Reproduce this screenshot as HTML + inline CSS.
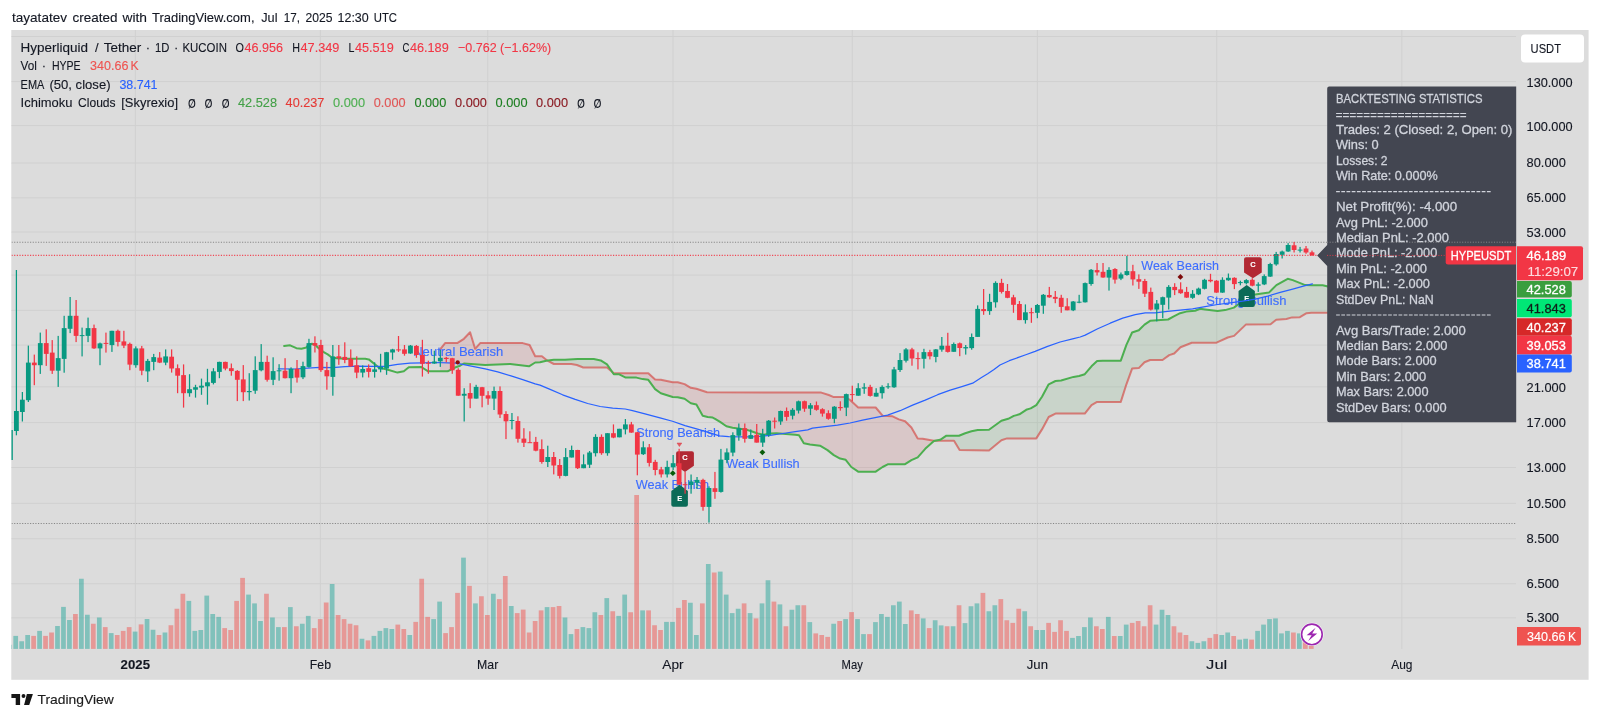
<!DOCTYPE html>
<html><head><meta charset="utf-8"><title>HYPEUSDT chart</title>
<style>html,body{margin:0;padding:0;background:#fff;width:1600px;height:719px;overflow:hidden;font-family:"Liberation Sans", sans-serif;}</style>
</head><body>
<svg width="1600" height="719" viewBox="0 0 1600 719" font-family='"Liberation Sans", sans-serif' style="display:block;will-change:transform">
<rect x="11.3" y="30" width="1577.3" height="649.8" fill="#dcdcdc"/>
<text x="12" y="22" font-size="13" fill="#131722" textLength="55" lengthAdjust="spacingAndGlyphs" stroke="#131722" stroke-width="0.12">tayatatev</text>
<text x="72.5" y="22" font-size="13" fill="#131722" textLength="45" lengthAdjust="spacingAndGlyphs" stroke="#131722" stroke-width="0.12">created</text>
<text x="122.5" y="22" font-size="13" fill="#131722" textLength="24.5" lengthAdjust="spacingAndGlyphs" stroke="#131722" stroke-width="0.12">with</text>
<text x="152" y="22" font-size="13" fill="#131722" textLength="102.5" lengthAdjust="spacingAndGlyphs" stroke="#131722" stroke-width="0.12">TradingView.com,</text>
<text x="261.25" y="22" font-size="13" fill="#131722" textLength="16.25" lengthAdjust="spacingAndGlyphs" stroke="#131722" stroke-width="0.12">Jul</text>
<text x="283.75" y="22" font-size="13" fill="#131722" textLength="16.25" lengthAdjust="spacingAndGlyphs" stroke="#131722" stroke-width="0.12">17,</text>
<text x="305.5" y="22" font-size="13" fill="#131722" textLength="27" lengthAdjust="spacingAndGlyphs" stroke="#131722" stroke-width="0.12">2025</text>
<text x="337.5" y="22" font-size="13" fill="#131722" textLength="31.25" lengthAdjust="spacingAndGlyphs" stroke="#131722" stroke-width="0.12">12:30</text>
<text x="373.75" y="22" font-size="13" fill="#131722" textLength="23.25" lengthAdjust="spacingAndGlyphs" stroke="#131722" stroke-width="0.12">UTC</text>
<g stroke="#d0d0d0" stroke-width="1" fill="none">
<line x1="11.5" x2="1516" y1="36.5" y2="36.5"/>
<line x1="11.5" x2="1516" y1="81.6" y2="81.6"/>
<line x1="11.5" x2="1516" y1="125.6" y2="125.6"/>
<line x1="11.5" x2="1516" y1="163" y2="163"/>
<line x1="11.5" x2="1516" y1="197.8" y2="197.8"/>
<line x1="11.5" x2="1516" y1="232" y2="232"/>
<line x1="11.5" x2="1516" y1="275.1" y2="275.1"/>
<line x1="11.5" x2="1516" y1="310.4" y2="310.4"/>
<line x1="11.5" x2="1516" y1="345.1" y2="345.1"/>
<line x1="11.5" x2="1516" y1="386.8" y2="386.8"/>
<line x1="11.5" x2="1516" y1="422.6" y2="422.6"/>
<line x1="11.5" x2="1516" y1="467.5" y2="467.5"/>
<line x1="11.5" x2="1516" y1="503.3" y2="503.3"/>
<line x1="11.5" x2="1516" y1="538.7" y2="538.7"/>
<line x1="11.5" x2="1516" y1="583.7" y2="583.7"/>
<line x1="11.5" x2="1516" y1="617.9" y2="617.9"/>
<line x1="135.3" x2="135.3" y1="30" y2="649"/>
<line x1="320.4" x2="320.4" y1="30" y2="649"/>
<line x1="487.7" x2="487.7" y1="30" y2="649"/>
<line x1="672.95" x2="672.95" y1="30" y2="649"/>
<line x1="852.2" x2="852.2" y1="30" y2="649"/>
<line x1="1037.4" x2="1037.4" y1="30" y2="649"/>
<line x1="1216.7" x2="1216.7" y1="30" y2="649"/>
<line x1="1401.9" x2="1401.9" y1="30" y2="649"/>
</g>
<clipPath id="pane"><rect x="11.5" y="30" width="1504.5" height="619"/></clipPath>
<g clip-path="url(#pane)">
<polygon points="440.1,371.3 440.6,371.3 441.1,371.3 441.6,371.3 442.1,371.3 442.6,371.3 443.1,371.3 443.6,371.3 444.1,371.3 444.6,371.3 445.1,371.3 445.6,371.3 446.1,371.3 446.6,371.3 447.1,371.3 447.6,371.3 448.1,371.05 448.6,370.79 449.1,370.54 449.6,370.29 450.1,370.03 450.6,369.78 451.1,369.53 451.6,369.27 452.1,369.02 452.6,368.77 453.1,368.51 453.6,368.26 454.1,368.01 454.6,367.75 455.1,367.5 455.6,367.32 456.1,367.14 456.6,366.96 457.1,366.78 457.6,366.6 458.1,366.42 458.6,366.24 459.1,366.06 459.6,365.88 460.1,365.7 460.6,365.41 461.1,365.12 461.6,364.83 462.1,364.54 462.6,364.25 463.1,363.96 463.6,363.67 464.1,363.51 464.6,363.55 465.1,363.58 465.6,363.62 466.1,363.65 466.6,363.69 467.1,363.73 467.6,363.76 468.1,363.8 468.6,363.83 469.1,363.87 469.6,363.9 470.1,363.94 470.6,363.97 471.1,364.01 471.6,364.04 472.1,364.08 472.6,364.11 473.1,364.15 473.6,364.18 474.1,364.22 474.6,364.25 475.1,364.29 475.6,364.32 476.1,364.36 476.6,364.39 477.1,364.43 477.6,364.46 478.1,364.5 478.6,364.54 479.1,364.57 479.6,364.61 480.1,364.64 480.6,364.68 481.1,364.71 481.6,364.75 482.1,364.78 482.6,364.82 483.1,364.85 483.6,364.89 484.1,364.92 484.6,364.96 485.1,364.99 485.6,364.98 486.1,364.96 486.6,364.94 487.1,364.92 487.6,364.9 488.1,364.88 488.6,364.86 489.1,364.84 489.6,364.82 490.1,364.8 490.6,364.78 491.1,364.76 491.6,364.74 492.1,364.72 492.6,364.7 493.1,364.68 493.6,364.66 494.1,364.64 494.6,364.62 495.1,364.6 495.6,364.58 496.1,364.56 496.6,364.54 497.1,364.52 497.6,364.5 498.1,364.48 498.6,364.46 499.1,364.44 499.6,364.42 500.1,364.4 500.6,364.38 501.1,364.36 501.6,364.34 502.1,364.32 502.6,364.3 503.1,364.28 503.6,364.26 504.1,364.24 504.6,364.22 505.1,364.2 505.6,364.18 506.1,364.16 506.6,364.14 507.1,364.12 507.6,364.1 508.1,364.08 508.6,364.06 509.1,364.04 509.6,364.02 510.1,364 510.6,364.05 511.1,364.11 511.6,364.17 512.1,364.23 512.6,364.29 513.1,364.35 513.6,364.42 514.1,364.48 514.6,364.54 515.1,364.6 515.6,364.66 516.1,364.72 516.6,364.78 517.1,364.84 517.6,364.91 518.1,364.97 518.6,365.03 519.1,365.09 519.6,365.15 520.1,365.21 520.6,365.27 521.1,365.33 521.6,365.39 522.1,365.46 522.6,365.52 523.1,365.58 523.6,365.64 524.1,365.7 524.6,365.76 525.1,365.82 525.6,365.88 526.1,365.95 526.6,366.01 527.1,366.07 527.6,366.13 528.1,366.19 528.6,366.25 529.1,366.24 529.6,365.93 530.1,365.63 530.6,365.32 531.1,365.01 531.6,364.71 532.1,364.4 532.6,364.09 533.1,363.79 533.6,363.48 534.1,363.17 534.6,362.87 535.1,362.56 535.6,362.48 536.1,362.46 536.6,362.44 537.1,362.42 537.6,362.4 538.1,362.38 538.6,362.36 539.1,362.34 539.6,362.32 540.1,362.27 540.6,362.15 541.1,362.02 541.6,361.89 542.1,361.77 542.6,361.64 543.1,361.51 543.6,361.39 544.1,361.26 544.6,361.13 545.1,361 545.6,360.88 546.1,360.75 546.6,360.66 547.1,360.59 547.6,360.53 547.6,360.75 547.1,360.39 546.6,359.99 546.1,359.6 545.6,359.21 545.1,358.81 544.6,358.42 544.1,358.03 543.6,357.64 543.1,357.24 542.6,356.85 542.1,356.46 541.6,356.3 541.1,356.3 540.6,356.3 540.1,356.3 539.6,356.3 539.1,356.3 538.6,356.3 538.1,356.3 537.6,356.3 537.1,356.3 536.6,356.3 536.1,356.3 535.6,356.3 535.1,356.1 534.6,355.09 534.1,354.08 533.6,353.07 533.1,352.06 532.6,351.05 532.1,350.04 531.6,349.04 531.1,348.03 530.6,347.02 530.1,346.01 529.6,345 529.1,344.86 528.6,344.72 528.1,344.59 527.6,344.45 527.1,344.31 526.6,344.17 526.1,344.04 525.6,343.9 525.1,343.76 524.6,343.62 524.1,343.49 523.6,343.35 523.1,343.21 522.6,343.1 522.1,343.1 521.6,343.1 521.1,343.1 520.6,343.1 520.1,343.1 519.6,343.1 519.1,343.1 518.6,343.1 518.1,343.1 517.6,343.1 517.1,343.1 516.6,343.1 516.1,343.1 515.6,343.1 515.1,343.1 514.6,343.1 514.1,343.1 513.6,343.1 513.1,343.1 512.6,343.1 512.1,343.1 511.6,343.1 511.1,343.1 510.6,343.1 510.1,343.1 509.6,343.1 509.1,343.1 508.6,343.1 508.1,343.1 507.6,343.1 507.1,343.1 506.6,343.1 506.1,343.1 505.6,343.1 505.1,343.1 504.6,343.1 504.1,343.1 503.6,343.1 503.1,343.1 502.6,343.1 502.1,343.1 501.6,343.1 501.1,343.1 500.6,343.1 500.1,343.1 499.6,343.1 499.1,343.1 498.6,343.1 498.1,343.1 497.6,343.1 497.1,343.1 496.6,343.1 496.1,343.1 495.6,343.1 495.1,343.1 494.6,343.1 494.1,343.1 493.6,343.1 493.1,343.1 492.6,343.1 492.1,343.1 491.6,343.1 491.1,343.1 490.6,343.1 490.1,343.1 489.6,343.1 489.1,343.1 488.6,343.1 488.1,343.1 487.6,343.1 487.1,343.1 486.6,343.1 486.1,343.1 485.6,343.1 485.1,343.1 484.6,343.1 484.1,343.1 483.6,343.1 483.1,343.1 482.6,343.1 482.1,343.1 481.6,343.1 481.1,343.1 480.6,343.1 480.1,343.21 479.6,343.77 479.1,344.33 478.6,344.89 478.1,345.45 477.6,346.01 477.1,346.56 476.6,347.12 476.1,347.68 475.6,348.24 475.1,348.8 474.6,347.15 474.1,345.5 473.6,343.85 473.1,342.2 472.6,340.55 472.1,338.9 471.6,337.25 471.1,335.6 470.6,333.95 470.1,332.3 469.6,332.82 469.1,333.35 468.6,333.87 468.1,334.4 467.6,334.92 467.1,335.45 466.6,335.97 466.1,336.49 465.6,337.02 465.1,337.54 464.6,338.07 464.1,338.59 463.6,339 463.1,339.32 462.6,339.65 462.1,339.97 461.6,340.3 461.1,340.62 460.6,340.95 460.1,341.27 459.6,341.6 459.1,341.92 458.6,342.25 458.1,342.57 457.6,342.9 457.1,342.91 456.6,342.92 456.1,342.92 455.6,342.93 455.1,342.94 454.6,342.95 454.1,342.96 453.6,342.96 453.1,342.97 452.6,342.98 452.1,342.99 451.6,343 451.1,343 450.6,343.01 450.1,343.02 449.6,343.03 449.1,343.04 448.6,343.04 448.1,343.05 447.6,343.06 447.1,343.07 446.6,343.08 446.1,343.08 445.6,343.09 445.1,343.1 444.6,343.73 444.1,344.36 443.6,344.99 443.1,345.62 442.6,346.25 442.1,346.88 441.6,347.51 441.1,348.14 440.6,348.77 440.1,349.4" fill="rgba(200,50,60,0.12)"/>
<polygon points="547.6,360.53 548.1,360.46 548.6,360.39 549.1,360.33 549.6,360.26 550.1,360.19 550.6,360.13 551.1,360.06 551.6,359.99 552.1,359.93 552.6,359.86 553.1,359.79 553.6,359.73 554.1,359.7 554.6,359.7 555.1,359.7 555.6,359.7 556.1,359.7 556.6,359.7 557.1,359.7 557.6,359.7 558.1,359.7 558.6,359.7 559.1,359.7 559.6,359.7 560.1,359.7 560.6,359.7 561.1,359.7 561.6,359.7 562.1,359.7 562.6,359.7 563.1,359.7 563.6,359.7 564.1,359.7 564.6,359.7 565.1,359.69 565.6,359.67 566.1,359.64 566.6,359.61 567.1,359.58 567.6,359.55 568.1,359.53 568.6,359.5 569.1,359.47 569.6,359.44 570.1,359.41 570.6,359.39 571.1,359.36 571.6,359.33 572.1,359.3 572.6,359.27 573.1,359.25 573.6,359.22 574.1,359.19 574.6,359.16 575.1,359.13 575.6,359.11 576.1,359.08 576.6,359.05 577.1,359.02 577.6,359 578.1,359 578.6,359 579.1,359 579.6,359 580.1,359 580.6,359 581.1,359 581.6,359 582.1,359 582.6,359 583.1,359 583.6,359 584.1,359 584.6,359 585.1,359 585.6,359 586.1,359 586.6,359 587.1,359 587.6,359 588.1,359 588.6,359 589.1,359 589.6,359 590.1,359 590.6,359 591.1,359 591.6,359 592.1,359 592.6,359 593.1,359 593.6,359 594.1,359.06 594.6,359.16 595.1,359.26 595.6,359.37 596.1,359.47 596.6,359.57 597.1,359.67 597.6,359.77 598.1,359.87 598.6,359.97 599.1,360.08 599.6,360.18 600.1,360.28 600.6,360.38 601.1,360.65 601.6,360.97 602.1,361.29 602.6,361.61 603.1,361.92 603.6,362.24 604.1,362.56 604.6,362.88 605.1,363.19 605.6,363.51 606.1,363.83 606.6,364.15 607.1,364.54 607.6,365.26 608.1,365.99 608.6,366.71 609.1,367.43 609.6,368.15 610.1,368.87 610.6,369.59 611.1,370.31 611.6,371.03 612.1,371.75 612.6,372.47 612.6,372.19 612.1,371.78 611.6,371.36 611.1,370.94 610.6,370.52 610.1,370.1 609.6,369.68 609.1,369.26 608.6,368.84 608.1,368.42 607.6,368 607.1,367.58 606.6,367.5 606.1,367.5 605.6,367.5 605.1,367.5 604.6,367.5 604.1,367.5 603.6,367.5 603.1,367.5 602.6,367.5 602.1,367.5 601.6,367.5 601.1,367.5 600.6,367.5 600.1,367.5 599.6,367.5 599.1,367.5 598.6,367.5 598.1,367.5 597.6,367.5 597.1,367.5 596.6,367.5 596.1,367.5 595.6,367.5 595.1,367.5 594.6,367.5 594.1,367.5 593.6,367.5 593.1,367.5 592.6,367.5 592.1,367.5 591.6,367.5 591.1,367.5 590.6,367.5 590.1,367.5 589.6,367.5 589.1,367.5 588.6,367.5 588.1,367.5 587.6,367.5 587.1,367.5 586.6,367.5 586.1,367.5 585.6,367.5 585.1,367.5 584.6,367.5 584.1,367.5 583.6,367.5 583.1,367.46 582.6,367.26 582.1,367.06 581.6,366.87 581.1,366.67 580.6,366.47 580.1,366.27 579.6,366.07 579.1,365.87 578.6,365.67 578.1,365.48 577.6,365.28 577.1,365.08 576.6,364.95 576.1,364.86 575.6,364.77 575.1,364.68 574.6,364.59 574.1,364.5 573.6,364.41 573.1,364.32 572.6,364.23 572.1,364.14 571.6,364.05 571.1,364 570.6,364 570.1,364 569.6,364 569.1,364 568.6,364 568.1,364 567.6,364 567.1,364 566.6,364 566.1,364 565.6,364 565.1,364 564.6,364 564.1,364 563.6,364 563.1,364 562.6,364 562.1,364 561.6,364 561.1,364 560.6,364 560.1,364 559.6,364 559.1,364 558.6,364 558.1,364 557.6,364 557.1,364 556.6,364 556.1,364 555.6,364 555.1,364 554.6,364 554.1,364 553.6,363.9 553.1,363.63 552.6,363.37 552.1,363.11 551.6,362.85 551.1,362.59 550.6,362.32 550.1,362.06 549.6,361.8 549.1,361.54 548.6,361.28 548.1,361.01 547.6,360.75" fill="rgba(67,160,71,0.12)"/>
<polygon points="612.6,372.47 613.1,373.19 613.6,373.91 614.1,374.2 614.6,374.2 615.1,374.2 615.6,374.2 616.1,374.2 616.6,374.2 617.1,374.2 617.6,374.2 618.1,374.2 618.6,374.2 619.1,374.35 619.6,374.59 620.1,374.84 620.6,375.09 621.1,375.33 621.6,375.58 622.1,375.83 622.6,376.07 623.1,376.32 623.6,376.57 624.1,376.81 624.6,377.06 625.1,377.3 625.6,377.55 626.1,377.6 626.6,377.6 627.1,377.6 627.6,377.6 628.1,377.6 628.6,377.6 629.1,377.6 629.6,377.6 630.1,377.6 630.6,377.6 631.1,377.6 631.6,377.6 632.1,377.6 632.6,377.6 633.1,377.6 633.6,377.6 634.1,377.6 634.6,377.6 635.1,377.6 635.6,377.6 636.1,377.6 636.6,377.65 637.1,377.77 637.6,377.89 638.1,378.01 638.6,378.13 639.1,378.25 639.6,378.37 640.1,378.5 640.6,378.62 641.1,378.74 641.6,378.86 642.1,378.98 642.6,379.1 643.1,379.16 643.6,379.22 644.1,379.28 644.6,379.35 645.1,379.41 645.6,379.47 646.1,379.53 646.6,379.59 647.1,379.65 647.6,379.71 648.1,379.78 648.6,380.21 649.1,380.89 649.6,381.58 650.1,382.26 650.6,382.95 651.1,383.63 651.6,384.31 652.1,385 652.6,385.68 653.1,386.36 653.6,387.05 654.1,387.73 654.6,388.42 655.1,389.1 655.6,389.46 656.1,389.82 656.6,390.18 657.1,390.54 657.6,390.9 658.1,391.26 658.6,391.62 659.1,391.98 659.6,392.34 660.1,392.7 660.6,393.06 661.1,393.3 661.6,393.46 662.1,393.62 662.6,393.77 663.1,393.93 663.6,394.09 664.1,394.25 664.6,394.41 665.1,394.57 665.6,394.73 666.1,394.89 666.6,395.05 667.1,395.21 667.6,395.37 668.1,395.53 668.6,395.69 669.1,395.85 669.6,396.01 670.1,396.17 670.6,396.33 671.1,396.49 671.6,396.65 672.1,396.81 672.6,396.97 673.1,397.02 673.6,397.04 674.1,397.06 674.6,397.08 675.1,397.1 675.6,397.12 676.1,397.14 676.6,397.16 677.1,397.18 677.6,397.2 678.1,397.29 678.6,397.41 679.1,397.52 679.6,397.64 680.1,397.76 680.6,397.87 681.1,397.99 681.6,398.1 682.1,398.22 682.6,398.34 683.1,398.45 683.6,398.57 684.1,398.68 684.6,398.8 685.1,399.15 685.6,399.51 686.1,399.86 686.6,400.22 687.1,400.57 687.6,400.93 688.1,401.28 688.6,401.64 689.1,401.99 689.6,402.35 690.1,402.7 690.6,403.06 691.1,403.27 691.6,403.39 692.1,403.5 692.6,403.62 693.1,403.73 693.6,403.85 694.1,403.97 694.6,404.08 695.1,404.2 695.6,404.31 696.1,404.43 696.6,404.86 697.1,405.74 697.6,406.63 698.1,407.52 698.6,408.41 699.1,409.3 699.6,410.19 700.1,411.08 700.6,411.97 701.1,412.86 701.6,413.74 702.1,414.63 702.6,415.52 703.1,415.8 703.6,415.93 704.1,416.06 704.6,416.19 705.1,416.32 705.6,416.45 706.1,416.58 706.6,416.71 707.1,416.84 707.6,416.97 708.1,417.05 708.6,417.11 709.1,417.17 709.6,417.23 710.1,417.29 710.6,417.35 711.1,417.41 711.6,417.47 712.1,417.53 712.6,417.59 713.1,417.8 713.6,418.05 714.1,418.3 714.6,418.55 715.1,418.8 715.6,419.11 716.1,419.42 716.6,419.73 717.1,420.04 717.6,420.35 718.1,420.66 718.6,420.97 719.1,421.28 719.6,421.59 720.1,421.9 720.6,422.25 721.1,422.6 721.6,422.95 722.1,423.3 722.6,423.65 723.1,424 723.6,424.34 724.1,424.69 724.6,425.04 725.1,425.39 725.6,425.74 726.1,426.09 726.6,426.35 727.1,426.47 727.6,426.59 728.1,426.71 728.6,426.83 729.1,426.95 729.6,427.07 730.1,427.2 730.6,427.32 731.1,427.44 731.6,427.56 732.1,427.68 732.6,427.8 733.1,427.86 733.6,427.93 734.1,427.99 734.6,428.05 735.1,428.12 735.6,428.18 736.1,428.24 736.6,428.31 737.1,428.37 737.6,428.43 738.1,428.5 738.6,428.56 739.1,428.63 739.6,428.69 740.1,428.75 740.6,428.82 741.1,428.88 741.6,428.94 742.1,429.01 742.6,429.07 743.1,429.13 743.6,429.2 744.1,429.26 744.6,429.32 745.1,429.39 745.6,429.52 746.1,429.68 746.6,429.83 747.1,429.98 747.6,430.14 748.1,430.29 748.6,430.44 749.1,430.6 749.6,430.75 750.1,430.9 750.6,431.05 751.1,431.21 751.6,431.37 752.1,431.54 752.6,431.72 753.1,431.89 753.6,432.07 754.1,432.24 754.6,432.42 755.1,432.59 755.6,432.77 756.1,432.94 756.6,433.12 757.1,433.29 757.6,433.47 758.1,433.58 758.6,433.69 759.1,433.79 759.6,433.9 760.1,434 760.6,434.11 761.1,434.21 761.6,434.32 762.1,434.42 762.6,434.53 763.1,434.63 763.6,434.74 764.1,434.76 764.6,434.66 765.1,434.55 765.6,434.45 766.1,434.35 766.6,434.24 767.1,434.14 767.6,434.04 768.1,433.93 768.6,433.83 769.1,433.73 769.6,433.62 770.1,433.52 770.6,433.48 771.1,433.46 771.6,433.43 772.1,433.41 772.6,433.39 773.1,433.36 773.6,433.34 774.1,433.31 774.6,433.29 775.1,433.27 775.6,433.24 776.1,433.22 776.6,433.21 777.1,433.25 777.6,433.29 778.1,433.34 778.6,433.38 779.1,433.42 779.6,433.47 780.1,433.51 780.6,433.55 781.1,433.59 781.6,433.64 782.1,433.68 782.6,433.72 783.1,433.76 783.6,433.81 784.1,433.85 784.6,433.89 785.1,433.94 785.6,433.98 786.1,434.02 786.6,434.06 787.1,434.11 787.6,434.15 788.1,434.19 788.6,434.24 789.1,434.28 789.6,434.32 790.1,434.36 790.6,434.41 791.1,434.45 791.6,434.49 792.1,434.53 792.6,434.58 793.1,434.62 793.6,434.66 794.1,434.71 794.6,434.75 795.1,434.79 795.6,434.84 796.1,434.89 796.6,434.95 797.1,435 797.6,435.05 798.1,435.11 798.6,435.16 799.1,435.37 799.6,436.2 800.1,437.03 800.6,437.87 801.1,438.7 801.6,439.53 802.1,440.37 802.6,441.2 803.1,442.03 803.6,442.87 804.1,443.26 804.6,443.35 805.1,443.45 805.6,443.55 806.1,443.65 806.6,443.74 807.1,443.84 807.6,443.94 808.1,444.03 808.6,444.13 809.1,444.23 809.6,444.32 810.1,444.41 810.6,444.48 811.1,444.54 811.6,444.61 812.1,444.67 812.6,444.74 813.1,444.8 813.6,444.87 814.1,444.93 814.6,445 815.1,445.06 815.6,445.13 816.1,445.19 816.6,445.26 817.1,445.32 817.6,445.39 818.1,445.45 818.6,445.52 819.1,445.58 819.6,445.65 820.1,445.76 820.6,446.05 821.1,446.35 821.6,446.64 822.1,446.93 822.6,447.23 823.1,447.52 823.6,447.81 824.1,448.11 824.6,448.4 825.1,448.69 825.6,448.99 826.1,449.28 826.6,449.57 827.1,449.87 827.6,450.18 828.1,450.58 828.6,450.97 829.1,451.37 829.6,451.77 830.1,452.16 830.6,452.56 831.1,452.96 831.6,453.35 832.1,453.75 832.6,454.15 833.1,454.54 833.6,454.94 834.1,455.27 834.6,455.54 835.1,455.82 835.6,456.1 836.1,456.38 836.6,456.66 837.1,456.93 837.6,457.21 838.1,457.49 838.6,457.77 839.1,458.04 839.6,458.32 840.1,458.6 840.6,458.71 841.1,458.81 841.6,458.92 842.1,459.03 842.6,459.14 843.1,459.24 843.6,459.35 844.1,459.46 844.6,459.56 845.1,459.67 845.6,459.78 846.1,460.31 846.6,460.96 847.1,461.6 847.6,462.24 848.1,462.89 848.6,463.53 849.1,464.17 849.6,464.81 850.1,465.46 850.6,466.1 851.1,466.74 851.6,467.2 852.1,467.54 852.6,467.89 853.1,468.23 853.6,468.57 854.1,468.91 854.6,469.25 855.1,469.59 855.6,469.93 856.1,470.27 856.6,470.61 857.1,470.95 857.6,471.29 858.1,471.63 858.6,471.7 859.1,471.7 859.6,471.7 860.1,471.7 860.6,471.7 861.1,471.7 861.6,471.7 862.1,471.7 862.6,471.7 863.1,471.7 863.6,471.7 864.1,471.7 864.6,471.7 865.1,471.7 865.6,471.7 866.1,471.7 866.6,471.7 867.1,471.7 867.6,471.7 868.1,471.7 868.6,471.7 869.1,471.7 869.6,471.7 870.1,471.7 870.6,471.7 871.1,471.7 871.6,471.7 872.1,471.7 872.6,471.7 873.1,471.7 873.6,471.7 874.1,471.7 874.6,471.7 875.1,471.7 875.6,471.7 876.1,471.43 876.6,471.09 877.1,470.75 877.6,470.41 878.1,470.07 878.6,469.72 879.1,469.38 879.6,469.04 880.1,468.7 880.6,468.36 881.1,468.02 881.6,467.68 882.1,467.34 882.6,467 883.1,466.75 883.6,466.5 884.1,466.25 884.6,466 885.1,465.75 885.6,465.5 886.1,465.25 886.6,465 887.1,464.75 887.6,464.5 888.1,464.25 888.6,464.2 889.1,464.2 889.6,464.2 890.1,464.2 890.6,464.2 891.1,464.2 891.6,464.2 892.1,464.2 892.6,464.2 893.1,464.2 893.6,464.2 894.1,464.2 894.6,464.2 895.1,464.2 895.6,464.2 896.1,464.2 896.6,464.2 897.1,464.2 897.6,464.2 898.1,464.2 898.6,464.2 899.1,464.2 899.6,464.2 900.1,464.2 900.6,464.2 901.1,464.2 901.6,464.2 902.1,464.2 902.6,464.2 903.1,464.2 903.6,464.2 904.1,464.2 904.6,464.2 905.1,464.2 905.6,463.87 906.1,463.55 906.6,463.22 907.1,462.9 907.6,462.57 908.1,462.25 908.6,461.92 909.1,461.6 909.6,461.27 910.1,460.95 910.6,460.62 911.1,460.3 911.6,460.01 912.1,459.79 912.6,459.57 913.1,459.34 913.6,459.12 914.1,458.9 914.6,458.68 915.1,458.46 915.6,458.23 916.1,458.01 916.6,457.79 917.1,457.57 917.6,457.34 918.1,456.85 918.6,456.28 919.1,455.71 919.6,455.15 920.1,454.58 920.6,454.01 921.1,453.45 921.6,452.88 922.1,452.31 922.6,451.75 923.1,451.18 923.6,450.61 924.1,450.05 924.6,449.48 925.1,448.91 925.6,448.45 926.1,448 926.6,447.56 927.1,447.12 927.6,446.68 928.1,446.23 928.6,445.79 929.1,445.35 929.6,444.91 930.1,444.46 930.6,444.02 931.1,443.58 931.6,443.14 932.1,442.69 932.6,442.25 933.1,441.81 933.6,441.37 934.1,441.06 934.6,440.96 935.1,440.85 935.6,440.75 936.1,440.65 936.1,440.7 935.6,440.7 935.1,440.7 934.6,440.7 934.1,440.7 933.6,440.65 933.1,440.56 932.6,440.48 932.1,440.39 931.6,440.31 931.1,440.23 930.6,440.14 930.1,440.06 929.6,439.97 929.1,439.89 928.6,439.8 928.1,439.72 927.6,439.63 927.1,439.55 926.6,439.46 926.1,439.38 925.6,439.29 925.1,439.21 924.6,439.12 924.1,439.04 923.6,438.95 923.1,438.87 922.6,438.8 922.1,438.78 921.6,438.76 921.1,438.74 920.6,438.72 920.1,438.7 919.6,438.68 919.1,438.66 918.6,438.64 918.1,438.62 917.6,438.42 917.1,437.54 916.6,436.66 916.1,435.78 915.6,434.9 915.1,434.02 914.6,433.14 914.1,432.26 913.6,431.38 913.1,430.5 912.6,429.61 912.1,428.73 911.6,427.85 911.1,427.2 910.6,426.71 910.1,426.22 909.6,425.73 909.1,425.24 908.6,424.74 908.1,424.25 907.6,423.76 907.1,423.27 906.6,422.78 906.1,422.28 905.6,421.79 905.1,421.3 904.6,421.15 904.1,420.99 903.6,420.84 903.1,420.69 902.6,420.53 902.1,420.38 901.6,420.23 901.1,420.07 900.6,419.92 900.1,419.77 899.6,419.61 899.1,419.46 898.6,419.25 898.1,419.01 897.6,418.76 897.1,418.51 896.6,418.27 896.1,418.02 895.6,417.78 895.1,417.53 894.6,417.28 894.1,417.04 893.6,416.79 893.1,416.55 892.6,416.3 892.1,416.27 891.6,416.24 891.1,416.21 890.6,416.18 890.1,416.15 889.6,416.12 889.1,416.09 888.6,416.06 888.1,416.03 887.6,416 887.1,415.97 886.6,415.94 886.1,415.91 885.6,415.88 885.1,415.85 884.6,415.82 884.1,415.79 883.6,415.76 883.1,415.73 882.6,415.7 882.1,415.11 881.6,414.51 881.1,413.92 880.6,413.32 880.1,412.73 879.6,412.13 879.1,411.54 878.6,410.95 878.1,410.35 877.6,409.76 877.1,409.16 876.6,408.57 876.1,407.98 875.6,407.5 875.1,407.5 874.6,407.5 874.1,407.5 873.6,407.5 873.1,407.5 872.6,407.5 872.1,407.5 871.6,407.5 871.1,407.5 870.6,407.5 870.1,407.5 869.6,407.5 869.1,407.5 868.6,407.5 868.1,407.5 867.6,407.5 867.1,407.5 866.6,407.5 866.1,407.5 865.6,407.5 865.1,407.5 864.6,407.5 864.1,407.5 863.6,407.5 863.1,407.5 862.6,407.5 862.1,407.5 861.6,407.5 861.1,407.5 860.6,407.5 860.1,407.5 859.6,407.5 859.1,407.5 858.6,407.5 858.1,407.41 857.6,406.94 857.1,406.48 856.6,406.02 856.1,405.56 855.6,405.09 855.1,404.63 854.6,404.17 854.1,403.7 853.6,403.24 853.1,402.78 852.6,402.31 852.1,401.85 851.6,401.39 851.1,400.93 850.6,400.46 850.1,400 849.6,399.69 849.1,399.38 848.6,399.07 848.1,398.76 847.6,398.45 847.1,398.14 846.6,397.83 846.1,397.52 845.6,397.21 845.1,396.9 844.6,396.9 844.1,396.9 843.6,396.9 843.1,396.9 842.6,396.9 842.1,396.9 841.6,396.9 841.1,396.9 840.6,396.9 840.1,396.9 839.6,396.9 839.1,396.9 838.6,396.9 838.1,396.9 837.6,396.9 837.1,396.9 836.6,396.9 836.1,396.9 835.6,396.9 835.1,396.9 834.6,396.9 834.1,396.9 833.6,396.9 833.1,396.86 832.6,396.64 832.1,396.42 831.6,396.21 831.1,395.99 830.6,395.78 830.1,395.56 829.6,395.35 829.1,395.13 828.6,394.94 828.1,394.78 827.6,394.62 827.1,394.46 826.6,394.3 826.1,394.14 825.6,393.98 825.1,393.82 824.6,393.66 824.1,393.5 823.6,393.34 823.1,393.18 822.6,393.02 822.1,392.86 821.6,392.7 821.1,392.6 820.6,392.6 820.1,392.6 819.6,392.6 819.1,392.59 818.6,392.59 818.1,392.59 817.6,392.59 817.1,392.59 816.6,392.59 816.1,392.59 815.6,392.59 815.1,392.58 814.6,392.58 814.1,392.58 813.6,392.58 813.1,392.58 812.6,392.58 812.1,392.58 811.6,392.57 811.1,392.57 810.6,392.57 810.1,392.57 809.6,392.57 809.1,392.57 808.6,392.57 808.1,392.57 807.6,392.56 807.1,392.56 806.6,392.56 806.1,392.56 805.6,392.56 805.1,392.56 804.6,392.56 804.1,392.55 803.6,392.55 803.1,392.55 802.6,392.55 802.1,392.55 801.6,392.55 801.1,392.55 800.6,392.55 800.1,392.54 799.6,392.54 799.1,392.54 798.6,392.54 798.1,392.54 797.6,392.54 797.1,392.54 796.6,392.54 796.1,392.53 795.6,392.53 795.1,392.53 794.6,392.53 794.1,392.53 793.6,392.53 793.1,392.53 792.6,392.52 792.1,392.52 791.6,392.52 791.1,392.52 790.6,392.52 790.1,392.52 789.6,392.52 789.1,392.52 788.6,392.51 788.1,392.51 787.6,392.51 787.1,392.51 786.6,392.51 786.1,392.51 785.6,392.51 785.1,392.5 784.6,392.5 784.1,392.5 783.6,392.5 783.1,392.5 782.6,392.5 782.1,392.5 781.6,392.5 781.1,392.49 780.6,392.49 780.1,392.49 779.6,392.49 779.1,392.49 778.6,392.49 778.1,392.49 777.6,392.49 777.1,392.48 776.6,392.48 776.1,392.48 775.6,392.48 775.1,392.48 774.6,392.48 774.1,392.48 773.6,392.47 773.1,392.47 772.6,392.47 772.1,392.47 771.6,392.47 771.1,392.47 770.6,392.47 770.1,392.47 769.6,392.46 769.1,392.46 768.6,392.46 768.1,392.46 767.6,392.46 767.1,392.46 766.6,392.46 766.1,392.45 765.6,392.45 765.1,392.45 764.6,392.45 764.1,392.45 763.6,392.45 763.1,392.45 762.6,392.45 762.1,392.44 761.6,392.44 761.1,392.44 760.6,392.44 760.1,392.44 759.6,392.44 759.1,392.44 758.6,392.44 758.1,392.43 757.6,392.43 757.1,392.43 756.6,392.43 756.1,392.43 755.6,392.43 755.1,392.43 754.6,392.42 754.1,392.42 753.6,392.42 753.1,392.42 752.6,392.42 752.1,392.42 751.6,392.42 751.1,392.42 750.6,392.41 750.1,392.41 749.6,392.41 749.1,392.41 748.6,392.41 748.1,392.41 747.6,392.41 747.1,392.41 746.6,392.4 746.1,392.4 745.6,392.4 745.1,392.4 744.6,392.4 744.1,392.4 743.6,392.4 743.1,392.39 742.6,392.39 742.1,392.39 741.6,392.39 741.1,392.39 740.6,392.39 740.1,392.39 739.6,392.39 739.1,392.38 738.6,392.38 738.1,392.38 737.6,392.38 737.1,392.38 736.6,392.38 736.1,392.38 735.6,392.37 735.1,392.37 734.6,392.37 734.1,392.37 733.6,392.37 733.1,392.37 732.6,392.37 732.1,392.37 731.6,392.36 731.1,392.36 730.6,392.36 730.1,392.36 729.6,392.36 729.1,392.36 728.6,392.36 728.1,392.36 727.6,392.35 727.1,392.35 726.6,392.35 726.1,392.35 725.6,392.35 725.1,392.35 724.6,392.35 724.1,392.34 723.6,392.34 723.1,392.34 722.6,392.34 722.1,392.34 721.6,392.34 721.1,392.34 720.6,392.34 720.1,392.33 719.6,392.33 719.1,392.33 718.6,392.33 718.1,392.33 717.6,392.33 717.1,392.33 716.6,392.32 716.1,392.32 715.6,392.32 715.1,392.32 714.6,392.32 714.1,392.32 713.6,392.32 713.1,392.32 712.6,392.31 712.1,392.31 711.6,392.31 711.1,392.31 710.6,392.31 710.1,392.31 709.6,392.31 709.1,392.31 708.6,392.3 708.1,392.3 707.6,392.3 707.1,392.3 706.6,392.14 706.1,391.97 705.6,391.81 705.1,391.65 704.6,391.48 704.1,391.32 703.6,391.16 703.1,390.99 702.6,390.83 702.1,390.66 701.6,390.5 701.1,390.34 700.6,390.17 700.1,390.01 699.6,389.85 699.1,389.68 698.6,389.52 698.1,389.36 697.6,389.19 697.1,389.03 696.6,388.87 696.1,388.75 695.6,388.66 695.1,388.57 694.6,388.48 694.1,388.39 693.6,388.3 693.1,388.21 692.6,388.12 692.1,388.03 691.6,387.94 691.1,387.85 690.6,387.68 690.1,387.38 689.6,387.08 689.1,386.79 688.6,386.49 688.1,386.19 687.6,385.89 687.1,385.59 686.6,385.29 686.1,385 685.6,384.7 685.1,384.4 684.6,384.1 684.1,383.97 683.6,383.84 683.1,383.71 682.6,383.58 682.1,383.45 681.6,383.32 681.1,383.19 680.6,383.06 680.1,382.93 679.6,382.8 679.1,382.67 678.6,382.53 678.1,382.4 677.6,382.3 677.1,382.3 676.6,382.3 676.1,382.3 675.6,382.3 675.1,382.3 674.6,382.3 674.1,382.3 673.6,382.3 673.1,382.3 672.6,382.28 672.1,382.17 671.6,382.06 671.1,381.95 670.6,381.84 670.1,381.73 669.6,381.62 669.1,381.51 668.6,381.4 668.1,381.29 667.6,381.19 667.1,381.08 666.6,380.97 666.1,380.86 665.6,380.75 665.1,380.64 664.6,380.53 664.1,380.42 663.6,380.31 663.1,380.2 662.6,380.09 662.1,379.98 661.6,379.87 661.1,379.77 660.6,379.69 660.1,379.66 659.6,379.64 659.1,379.61 658.6,379.58 658.1,379.56 657.6,379.53 657.1,379.51 656.6,379.48 656.1,379.45 655.6,379.43 655.1,379.4 654.6,378.94 654.1,378.49 653.6,378.03 653.1,377.58 652.6,377.12 652.1,376.66 651.6,376.21 651.1,375.75 650.6,375.3 650.1,374.84 649.6,374.39 649.1,373.93 648.6,373.47 648.1,373.2 647.6,373.2 647.1,373.2 646.6,373.2 646.1,373.2 645.6,373.2 645.1,373.2 644.6,373.2 644.1,373.2 643.6,373.2 643.1,373.2 642.6,373.2 642.1,373.2 641.6,373.2 641.1,373.2 640.6,373.2 640.1,373.2 639.6,373.2 639.1,373.2 638.6,373.2 638.1,373.2 637.6,373.2 637.1,373.2 636.6,373.2 636.1,373.2 635.6,373.2 635.1,373.2 634.6,373.2 634.1,373.2 633.6,373.2 633.1,373.2 632.6,373.2 632.1,373.2 631.6,373.2 631.1,373.2 630.6,373.2 630.1,373.2 629.6,373.2 629.1,373.2 628.6,373.2 628.1,373.2 627.6,373.2 627.1,373.2 626.6,373.2 626.1,373.2 625.6,373.2 625.1,373.2 624.6,373.2 624.1,373.2 623.6,373.2 623.1,373.2 622.6,373.2 622.1,373.2 621.6,373.2 621.1,373.2 620.6,373.2 620.1,373.2 619.6,373.2 619.1,373.2 618.6,373.2 618.1,373.2 617.6,373.2 617.1,373.2 616.6,373.2 616.1,373.2 615.6,373.2 615.1,373.2 614.6,373.2 614.1,373.2 613.6,373.03 613.1,372.61 612.6,372.19" fill="rgba(200,50,60,0.12)"/>
<polygon points="936.1,440.65 936.6,440.54 937.1,440.44 937.6,440.34 938.1,440.23 938.6,440.13 939.1,440.03 939.6,439.92 940.1,439.82 940.6,439.54 941.1,439.2 941.6,438.87 942.1,438.54 942.6,438.21 943.1,437.88 943.6,437.55 944.1,437.22 944.6,436.89 945.1,436.56 945.6,436.23 946.1,435.9 946.6,435.7 947.1,435.7 947.6,435.7 948.1,435.7 948.6,435.7 949.1,435.7 949.6,435.7 950.1,435.7 950.6,435.7 951.1,435.7 951.6,435.7 952.1,435.7 952.6,435.7 953.1,435.7 953.6,435.7 954.1,435.7 954.6,435.7 955.1,435.7 955.6,435.7 956.1,435.7 956.6,435.7 957.1,435.7 957.6,435.7 958.1,435.7 958.6,435.7 959.1,435.66 959.6,435.46 960.1,435.26 960.6,435.05 961.1,434.85 961.6,434.65 962.1,434.45 962.6,434.25 963.1,434.05 963.6,433.85 964.1,433.64 964.6,433.44 965.1,433.24 965.6,433.08 966.1,432.93 966.6,432.78 967.1,432.63 967.6,432.48 968.1,432.33 968.6,432.17 969.1,432.02 969.6,431.87 970.1,431.72 970.6,431.57 971.1,431.42 971.6,431.28 972.1,431.17 972.6,431.07 973.1,430.96 973.6,430.86 974.1,430.75 974.6,430.65 975.1,430.55 975.6,430.44 976.1,430.34 976.6,430.23 977.1,430.13 977.6,430.02 978.1,429.99 978.6,429.98 979.1,429.98 979.6,429.97 980.1,429.96 980.6,429.95 981.1,429.94 981.6,429.93 982.1,429.92 982.6,429.91 983.1,429.9 983.6,429.9 984.1,429.89 984.6,429.88 985.1,429.87 985.6,429.86 986.1,429.85 986.6,429.84 987.1,429.83 987.6,429.82 988.1,429.82 988.6,429.81 989.1,429.73 989.6,429.36 990.1,429 990.6,428.64 991.1,428.28 991.6,427.91 992.1,427.55 992.6,427.19 993.1,426.82 993.6,426.46 994.1,426.1 994.6,425.74 995.1,425.37 995.6,425.01 996.1,424.65 996.6,424.28 997.1,423.92 997.6,423.56 998.1,423.2 998.6,422.83 999.1,422.47 999.6,422.11 1000.1,421.74 1000.6,421.38 1001.1,421.02 1001.6,420.74 1002.1,420.59 1002.6,420.45 1003.1,420.3 1003.6,420.15 1004.1,420.01 1004.6,419.86 1005.1,419.71 1005.6,419.56 1006.1,419.42 1006.6,419.27 1007.1,419.12 1007.6,418.98 1008.1,418.83 1008.6,418.59 1009.1,418.33 1009.6,418.07 1010.1,417.82 1010.6,417.56 1011.1,417.3 1011.6,417.04 1012.1,416.78 1012.6,416.52 1013.1,416.26 1013.6,416 1014.1,415.81 1014.6,415.67 1015.1,415.53 1015.6,415.39 1016.1,415.24 1016.6,415.1 1017.1,414.96 1017.6,414.81 1018.1,414.67 1018.6,414.53 1019.1,414.39 1019.6,414.17 1020.1,413.84 1020.6,413.51 1021.1,413.18 1021.6,412.84 1022.1,412.51 1022.6,412.18 1023.1,411.85 1023.6,411.52 1024.1,411.19 1024.6,410.86 1025.1,410.53 1025.6,410.2 1026.1,409.87 1026.6,409.68 1027.1,409.52 1027.6,409.36 1028.1,409.21 1028.6,409.05 1029.1,408.9 1029.6,408.74 1030.1,408.59 1030.6,408.43 1031.1,408.16 1031.6,407.87 1032.1,407.58 1032.6,407.28 1033.1,406.99 1033.6,406.69 1034.1,406.4 1034.6,406.1 1035.1,405.81 1035.6,405.51 1036.1,405.22 1036.6,404.66 1037.1,403.92 1037.6,403.18 1038.1,402.45 1038.6,401.71 1039.1,400.97 1039.6,400.24 1040.1,399.5 1040.6,398.76 1041.1,398.03 1041.6,397.29 1042.1,396.51 1042.6,395.59 1043.1,394.66 1043.6,393.74 1044.1,392.81 1044.6,391.89 1045.1,390.96 1045.6,390.04 1046.1,389.11 1046.6,388.19 1047.1,387.26 1047.6,386.34 1048.1,385.41 1048.6,384.49 1049.1,384.11 1049.6,383.86 1050.1,383.62 1050.6,383.38 1051.1,383.14 1051.6,382.89 1052.1,382.65 1052.6,382.41 1053.1,382.16 1053.6,381.92 1054.1,381.68 1054.6,381.44 1055.1,381.19 1055.6,380.99 1056.1,380.95 1056.6,380.9 1057.1,380.86 1057.6,380.81 1058.1,380.77 1058.6,380.72 1059.1,380.68 1059.6,380.63 1060.1,380.59 1060.6,380.54 1061.1,380.5 1061.6,380.35 1062.1,380.21 1062.6,380.06 1063.1,379.92 1063.6,379.77 1064.1,379.63 1064.6,379.48 1065.1,379.34 1065.6,379.19 1066.1,379.05 1066.6,378.9 1067.1,378.76 1067.6,378.61 1068.1,378.47 1068.6,378.32 1069.1,378.18 1069.6,378.03 1070.1,377.89 1070.6,377.74 1071.1,377.6 1071.6,377.45 1072.1,377.31 1072.6,377.16 1073.1,377.02 1073.6,376.88 1074.1,376.8 1074.6,376.72 1075.1,376.64 1075.6,376.56 1076.1,376.48 1076.6,376.4 1077.1,376.32 1077.6,376.24 1078.1,376.16 1078.6,376.08 1079.1,376 1079.6,375.84 1080.1,375.68 1080.6,375.53 1081.1,375.37 1081.6,375.21 1082.1,375.05 1082.6,374.89 1083.1,374.74 1083.6,374.58 1084.1,374.42 1084.6,374.26 1085.1,373.85 1085.6,373.26 1086.1,372.67 1086.6,372.08 1087.1,371.49 1087.6,370.9 1088.1,370.31 1088.6,369.72 1089.1,369.13 1089.6,368.54 1090.1,367.95 1090.6,367.36 1091.1,366.77 1091.6,366.21 1092.1,365.74 1092.6,365.28 1093.1,364.81 1093.6,364.35 1094.1,363.89 1094.6,363.42 1095.1,362.96 1095.6,362.49 1096.1,362.03 1096.6,361.56 1097.1,361.1 1097.6,361.06 1098.1,361.03 1098.6,360.99 1099.1,360.96 1099.6,360.92 1100.1,360.89 1100.6,360.85 1101.1,360.82 1101.6,360.78 1102.1,360.75 1102.6,360.71 1103.1,360.7 1103.6,360.7 1104.1,360.7 1104.6,360.7 1105.1,360.7 1105.6,360.7 1106.1,360.7 1106.6,360.7 1107.1,360.7 1107.6,360.7 1108.1,360.7 1108.6,360.7 1109.1,360.7 1109.6,360.7 1110.1,360.7 1110.6,360.7 1111.1,360.7 1111.6,360.7 1112.1,360.7 1112.6,360.7 1113.1,360.7 1113.6,360.7 1114.1,360.7 1114.6,360.7 1115.1,360.7 1115.6,360.7 1116.1,360.7 1116.6,360.7 1117.1,360.7 1117.6,360.7 1118.1,360.7 1118.6,360.7 1119.1,360.7 1119.6,360.7 1120.1,360.7 1120.6,360.7 1121.1,359.85 1121.6,358.44 1122.1,357.03 1122.6,355.62 1123.1,354.21 1123.6,352.8 1124.1,351.39 1124.6,349.98 1125.1,348.57 1125.6,347.16 1126.1,345.75 1126.6,344.46 1127.1,343.38 1127.6,342.29 1128.1,341.2 1128.6,340.11 1129.1,339.03 1129.6,337.94 1130.1,336.85 1130.6,335.76 1131.1,334.68 1131.6,333.59 1132.1,332.5 1132.6,332.34 1133.1,332.17 1133.6,332.01 1134.1,331.84 1134.6,331.68 1135.1,331.51 1135.6,331.35 1136.1,331.19 1136.6,331.02 1137.1,330.86 1137.6,330.69 1138.1,330.53 1138.6,330.37 1139.1,330 1139.6,329.5 1140.1,329 1140.6,328.5 1141.1,328 1141.6,327.5 1142.1,327 1142.6,326.5 1143.1,326 1143.6,325.5 1144.1,325 1144.6,324.53 1145.1,324.19 1145.6,323.85 1146.1,323.51 1146.6,323.18 1147.1,322.84 1147.6,322.5 1148.1,322.16 1148.6,321.82 1149.1,321.48 1149.6,321.14 1150.1,320.8 1150.6,320.76 1151.1,320.73 1151.6,320.69 1152.1,320.66 1152.6,320.62 1153.1,320.58 1153.6,320.55 1154.1,320.51 1154.6,320.48 1155.1,320.44 1155.6,320.4 1156.1,320.37 1156.6,320.33 1157.1,320.29 1157.6,320.26 1158.1,320.22 1158.6,320.19 1159.1,320.15 1159.6,320.11 1160.1,320.08 1160.6,320.04 1161.1,320.01 1161.6,319.97 1162.1,319.93 1162.6,319.9 1163.1,319.86 1163.6,319.82 1164.1,319.79 1164.6,319.75 1165.1,319.72 1165.6,319.68 1166.1,319.64 1166.6,319.61 1167.1,319.57 1167.6,319.54 1168.1,319.5 1168.6,319.23 1169.1,318.96 1169.6,318.68 1170.1,318.41 1170.6,318.14 1171.1,317.87 1171.6,317.6 1172.1,317.32 1172.6,317.05 1173.1,316.78 1173.6,316.51 1174.1,316.25 1174.6,315.99 1175.1,315.74 1175.6,315.49 1176.1,315.23 1176.6,314.98 1177.1,314.72 1177.6,314.47 1178.1,314.22 1178.6,313.96 1179.1,313.71 1179.6,313.45 1180.1,313.2 1180.6,313.07 1181.1,312.94 1181.6,312.81 1182.1,312.68 1182.6,312.55 1183.1,312.43 1183.6,312.3 1184.1,312.17 1184.6,312.04 1185.1,311.91 1185.6,311.78 1186.1,311.65 1186.6,311.57 1187.1,311.52 1187.6,311.47 1188.1,311.42 1188.6,311.36 1189.1,311.31 1189.6,311.26 1190.1,311.21 1190.6,311.16 1191.1,311.11 1191.6,311.06 1192.1,311.01 1192.6,310.96 1193.1,310.9 1193.6,310.85 1194.1,310.8 1194.6,310.75 1195.1,310.7 1195.6,310.51 1196.1,310.32 1196.6,310.13 1197.1,309.94 1197.6,309.75 1198.1,309.56 1198.6,309.37 1199.1,309.18 1199.6,308.99 1200.1,308.8 1200.6,308.87 1201.1,308.94 1201.6,309.01 1202.1,309.08 1202.6,309.15 1203.1,309.22 1203.6,309.29 1204.1,309.36 1204.6,309.43 1205.1,309.5 1205.6,309.56 1206.1,309.63 1206.6,309.69 1207.1,309.76 1207.6,309.82 1208.1,309.88 1208.6,309.95 1209.1,310.01 1209.6,310.08 1210.1,310.14 1210.6,310.2 1211.1,310.27 1211.6,310.33 1212.1,310.4 1212.6,310.46 1213.1,310.52 1213.6,310.59 1214.1,310.65 1214.6,310.72 1215.1,310.78 1215.6,310.84 1216.1,310.91 1216.6,310.97 1217.1,311.04 1217.6,311.1 1218.1,311.03 1218.6,310.97 1219.1,310.9 1219.6,310.83 1220.1,310.77 1220.6,310.7 1221.1,310.63 1221.6,310.57 1222.1,310.5 1222.6,310.43 1223.1,310.37 1223.6,310.3 1224.1,310.23 1224.6,310.17 1225.1,310.1 1225.6,309.96 1226.1,309.82 1226.6,309.67 1227.1,309.53 1227.6,309.39 1228.1,309.25 1228.6,309.11 1229.1,308.96 1229.6,308.82 1230.1,308.68 1230.6,308.54 1231.1,308.4 1231.6,308.25 1232.1,308.11 1232.6,307.97 1233.1,307.83 1233.6,307.69 1234.1,307.45 1234.6,307.07 1235.1,306.7 1235.6,306.32 1236.1,305.94 1236.6,305.57 1237.1,305.19 1237.6,304.82 1238.1,304.44 1238.6,304.06 1239.1,303.69 1239.6,303.31 1240.1,302.93 1240.6,302.56 1241.1,302.18 1241.6,301.81 1242.1,301.43 1242.6,301.05 1243.1,300.68 1243.6,300.3 1244.1,299.95 1244.6,299.7 1245.1,299.45 1245.6,299.2 1246.1,298.95 1246.6,298.7 1247.1,298.45 1247.6,298.2 1248.1,297.95 1248.6,297.7 1249.1,297.45 1249.6,297.2 1250.1,296.95 1250.6,296.7 1251.1,296.45 1251.6,296.2 1252.1,295.95 1252.6,295.7 1253.1,295.45 1253.6,295.2 1254.1,294.95 1254.6,294.7 1255.1,294.45 1255.6,294.35 1256.1,294.28 1256.6,294.22 1257.1,294.15 1257.6,294.08 1258.1,294.02 1258.6,293.95 1259.1,293.89 1259.6,293.82 1260.1,293.76 1260.6,293.69 1261.1,293.62 1261.6,293.56 1262.1,293.49 1262.6,293.43 1263.1,293.36 1263.6,293.3 1264.1,293.23 1264.6,293.16 1265.1,293.1 1265.6,293.03 1266.1,292.97 1266.6,292.9 1267.1,292.84 1267.6,292.77 1268.1,292.71 1268.6,292.64 1269.1,292.4 1269.6,291.9 1270.1,291.4 1270.6,290.9 1271.1,290.4 1271.6,289.9 1272.1,289.4 1272.6,288.9 1273.1,288.4 1273.6,287.9 1274.1,287.4 1274.6,286.9 1275.1,286.4 1275.6,285.9 1276.1,285.4 1276.6,284.99 1277.1,284.71 1277.6,284.43 1278.1,284.15 1278.6,283.87 1279.1,283.59 1279.6,283.32 1280.1,283.04 1280.6,282.76 1281.1,282.48 1281.6,282.2 1282.1,281.92 1282.6,281.64 1283.1,281.36 1283.6,281.09 1284.1,280.81 1284.6,280.53 1285.1,280.25 1285.6,279.97 1286.1,279.69 1286.6,279.41 1287.1,279.13 1287.6,278.86 1288.1,278.9 1288.6,279.03 1289.1,279.16 1289.6,279.29 1290.1,279.42 1290.6,279.55 1291.1,279.68 1291.6,279.81 1292.1,279.94 1292.6,280.07 1293.1,280.26 1293.6,280.46 1294.1,280.66 1294.6,280.86 1295.1,281.06 1295.6,281.26 1296.1,281.46 1296.6,281.66 1297.1,281.86 1297.6,282.06 1298.1,282.26 1298.6,282.46 1299.1,282.66 1299.6,282.86 1300.1,283.06 1300.6,283.26 1301.1,283.46 1301.6,283.66 1302.1,283.86 1302.6,284.06 1303.1,284.26 1303.6,284.46 1304.1,284.66 1304.6,284.86 1305.1,285.06 1305.6,285.11 1306.1,285.13 1306.6,285.14 1307.1,285.16 1307.6,285.18 1308.1,285.19 1308.6,285.21 1309.1,285.22 1309.6,285.24 1310.1,285.26 1310.6,285.27 1311.1,285.29 1311.6,285.3 1312.1,285.3 1312.6,285.3 1313.1,285.3 1313.6,285.3 1314.1,285.3 1314.6,285.3 1315.1,285.3 1315.6,285.3 1316.1,285.3 1316.6,285.3 1317.1,285.3 1317.6,285.3 1318.1,285.3 1318.6,285.3 1319.1,285.3 1319.6,285.3 1320.1,285.3 1320.6,285.3 1321.1,285.3 1321.6,285.3 1322.1,285.3 1322.6,285.3 1323.1,285.39 1323.6,285.51 1324.1,285.63 1324.6,285.74 1325.1,285.86 1325.6,285.98 1326.1,286.09 1326.6,286.21 1327.1,286.32 1327.6,286.44 1328.1,286.56 1328.6,286.67 1329.1,286.79 1329.6,286.91 1329.6,312.8 1329.1,312.8 1328.6,312.8 1328.1,312.8 1327.6,312.8 1327.1,312.8 1326.6,312.8 1326.1,312.8 1325.6,312.8 1325.1,312.8 1324.6,312.8 1324.1,312.8 1323.6,312.8 1323.1,312.8 1322.6,312.8 1322.1,312.8 1321.6,312.8 1321.1,312.8 1320.6,312.8 1320.1,312.8 1319.6,312.8 1319.1,312.8 1318.6,312.8 1318.1,312.8 1317.6,312.8 1317.1,312.8 1316.6,312.8 1316.1,312.8 1315.6,312.8 1315.1,312.8 1314.6,312.8 1314.1,312.8 1313.6,312.8 1313.1,312.8 1312.6,312.8 1312.1,312.8 1311.6,312.8 1311.1,312.83 1310.6,312.87 1310.1,312.91 1309.6,312.96 1309.1,313 1308.6,313.04 1308.1,313.08 1307.6,313.12 1307.1,313.16 1306.6,313.2 1306.1,313.5 1305.6,313.8 1305.1,314.1 1304.6,314.39 1304.1,314.69 1303.6,314.99 1303.1,315.29 1302.6,315.59 1302.1,315.89 1301.6,316.19 1301.1,316.48 1300.6,316.78 1300.1,317.08 1299.6,317.21 1299.1,317.22 1298.6,317.23 1298.1,317.25 1297.6,317.26 1297.1,317.27 1296.6,317.28 1296.1,317.3 1295.6,317.31 1295.1,317.32 1294.6,317.33 1294.1,317.35 1293.6,317.36 1293.1,317.37 1292.6,317.38 1292.1,317.4 1291.6,317.51 1291.1,317.66 1290.6,317.8 1290.1,317.94 1289.6,318.09 1289.1,318.23 1288.6,318.37 1288.1,318.51 1287.6,318.66 1287.1,318.8 1286.6,318.94 1286.1,319.02 1285.6,319.06 1285.1,319.1 1284.6,319.14 1284.1,319.18 1283.6,319.22 1283.1,319.26 1282.6,319.3 1282.1,319.34 1281.6,319.38 1281.1,319.42 1280.6,319.45 1280.1,319.49 1279.6,319.53 1279.1,319.57 1278.6,319.61 1278.1,319.65 1277.6,319.69 1277.1,319.73 1276.6,319.77 1276.1,319.88 1275.6,320.28 1275.1,320.68 1274.6,321.09 1274.1,321.49 1273.6,321.89 1273.1,322.29 1272.6,322.69 1272.1,323.09 1271.6,323.5 1271.1,323.9 1270.6,324.3 1270.1,324.31 1269.6,324.31 1269.1,324.32 1268.6,324.32 1268.1,324.33 1267.6,324.34 1267.1,324.34 1266.6,324.35 1266.1,324.35 1265.6,324.36 1265.1,324.37 1264.6,324.37 1264.1,324.38 1263.6,324.38 1263.1,324.39 1262.6,324.4 1262.1,324.4 1261.6,324.41 1261.1,324.41 1260.6,324.42 1260.1,324.43 1259.6,324.43 1259.1,324.44 1258.6,324.45 1258.1,324.45 1257.6,324.46 1257.1,324.46 1256.6,324.47 1256.1,324.48 1255.6,324.48 1255.1,324.49 1254.6,324.49 1254.1,324.5 1253.6,324.51 1253.1,324.51 1252.6,324.52 1252.1,324.52 1251.6,324.53 1251.1,324.54 1250.6,324.54 1250.1,324.55 1249.6,324.55 1249.1,324.56 1248.6,324.57 1248.1,324.57 1247.6,324.58 1247.1,324.58 1246.6,324.59 1246.1,324.6 1245.6,324.79 1245.1,325.28 1244.6,325.76 1244.1,326.24 1243.6,326.72 1243.1,327.21 1242.6,327.69 1242.1,328.17 1241.6,328.66 1241.1,329.14 1240.6,329.62 1240.1,330.11 1239.6,330.59 1239.1,331.07 1238.6,331.55 1238.1,332.04 1237.6,332.52 1237.1,333 1236.6,333.49 1236.1,333.97 1235.6,334.45 1235.1,334.93 1234.6,335.42 1234.1,335.9 1233.6,336.03 1233.1,336.15 1232.6,336.28 1232.1,336.41 1231.6,336.53 1231.1,336.66 1230.6,336.79 1230.1,336.92 1229.6,337.04 1229.1,337.17 1228.6,337.3 1228.1,337.42 1227.6,337.59 1227.1,337.82 1226.6,338.05 1226.1,338.28 1225.6,338.51 1225.1,338.74 1224.6,338.97 1224.1,339.2 1223.6,339.43 1223.1,339.66 1222.6,339.89 1222.1,340.12 1221.6,340.35 1221.1,340.58 1220.6,340.81 1220.1,341.04 1219.6,341.27 1219.1,341.5 1218.6,341.73 1218.1,341.96 1217.6,342.19 1217.1,342.42 1216.6,342.65 1216.1,342.7 1215.6,342.7 1215.1,342.7 1214.6,342.7 1214.1,342.7 1213.6,342.7 1213.1,342.7 1212.6,342.7 1212.1,342.7 1211.6,342.7 1211.1,342.7 1210.6,342.7 1210.1,342.7 1209.6,342.7 1209.1,342.7 1208.6,342.7 1208.1,342.7 1207.6,342.7 1207.1,342.7 1206.6,342.7 1206.1,342.7 1205.6,342.7 1205.1,342.7 1204.6,342.7 1204.1,342.7 1203.6,342.7 1203.1,342.7 1202.6,342.7 1202.1,342.7 1201.6,342.7 1201.1,342.7 1200.6,342.7 1200.1,342.7 1199.6,342.7 1199.1,342.7 1198.6,342.7 1198.1,342.7 1197.6,342.7 1197.1,342.7 1196.6,342.7 1196.1,342.7 1195.6,342.7 1195.1,342.7 1194.6,342.7 1194.1,342.7 1193.6,342.7 1193.1,342.7 1192.6,342.7 1192.1,342.7 1191.6,342.78 1191.1,342.98 1190.6,343.18 1190.1,343.38 1189.6,343.58 1189.1,343.78 1188.6,343.97 1188.1,344.17 1187.6,344.37 1187.1,344.57 1186.6,344.77 1186.1,344.97 1185.6,345.17 1185.1,345.37 1184.6,345.57 1184.1,345.77 1183.6,345.97 1183.1,346.16 1182.6,346.36 1182.1,346.56 1181.6,346.76 1181.1,346.96 1180.6,347.16 1180.1,347.6 1179.6,348.1 1179.1,348.6 1178.6,349.1 1178.1,349.6 1177.6,350.1 1177.1,350.6 1176.6,351.1 1176.1,351.6 1175.6,352.1 1175.1,352.6 1174.6,353.1 1174.1,353.53 1173.6,353.69 1173.1,353.85 1172.6,354.01 1172.1,354.17 1171.6,354.33 1171.1,354.49 1170.6,354.65 1170.1,354.81 1169.6,354.97 1169.1,355.17 1168.6,355.54 1168.1,355.9 1167.6,356.27 1167.1,356.64 1166.6,357 1166.1,357.37 1165.6,357.73 1165.1,358.1 1164.6,358.46 1164.1,358.83 1163.6,359.2 1163.1,359.56 1162.6,359.93 1162.1,360 1161.6,360 1161.1,360 1160.6,360 1160.1,360 1159.6,360 1159.1,360 1158.6,360 1158.1,360 1157.6,360 1157.1,360 1156.6,360 1156.1,360 1155.6,360 1155.1,360 1154.6,360 1154.1,360 1153.6,360 1153.1,360 1152.6,360 1152.1,360 1151.6,360 1151.1,360 1150.6,360 1150.1,360 1149.6,360.21 1149.1,360.41 1148.6,360.62 1148.1,360.82 1147.6,361.03 1147.1,361.23 1146.6,361.44 1146.1,361.64 1145.6,361.85 1145.1,362.05 1144.6,362.26 1144.1,362.71 1143.6,363.22 1143.1,363.72 1142.6,364.23 1142.1,364.74 1141.6,365.25 1141.1,365.76 1140.6,366.27 1140.1,366.78 1139.6,367.29 1139.1,367.79 1138.6,368.11 1138.1,368.15 1137.6,368.19 1137.1,368.23 1136.6,368.26 1136.1,368.3 1135.6,368.34 1135.1,368.38 1134.6,368.41 1134.1,368.45 1133.6,368.49 1133.1,368.53 1132.6,368.56 1132.1,368.6 1131.6,369.98 1131.1,371.35 1130.6,372.73 1130.1,374.11 1129.6,375.49 1129.1,376.86 1128.6,378.24 1128.1,379.62 1127.6,380.99 1127.1,382.37 1126.6,383.75 1126.1,385.24 1125.6,386.81 1125.1,388.39 1124.6,389.96 1124.1,391.53 1123.6,393.1 1123.1,394.67 1122.6,396.24 1122.1,397.81 1121.6,399.39 1121.1,400.96 1120.6,401.9 1120.1,401.9 1119.6,401.9 1119.1,401.9 1118.6,401.9 1118.1,401.9 1117.6,401.9 1117.1,401.9 1116.6,401.9 1116.1,401.9 1115.6,401.9 1115.1,401.9 1114.6,401.9 1114.1,401.9 1113.6,401.9 1113.1,401.9 1112.6,401.9 1112.1,401.9 1111.6,401.9 1111.1,401.9 1110.6,401.9 1110.1,401.9 1109.6,401.9 1109.1,401.9 1108.6,401.9 1108.1,401.9 1107.6,401.9 1107.1,401.9 1106.6,401.9 1106.1,401.9 1105.6,401.9 1105.1,401.9 1104.6,401.9 1104.1,401.9 1103.6,401.9 1103.1,401.9 1102.6,401.9 1102.1,401.9 1101.6,401.9 1101.1,401.9 1100.6,401.9 1100.1,401.9 1099.6,401.9 1099.1,401.9 1098.6,401.9 1098.1,401.9 1097.6,401.9 1097.1,401.9 1096.6,402.19 1096.1,402.47 1095.6,402.76 1095.1,403.04 1094.6,403.33 1094.1,403.61 1093.6,403.9 1093.1,404.19 1092.6,404.47 1092.1,404.76 1091.6,405.04 1091.1,405.61 1090.6,406.24 1090.1,406.88 1089.6,407.51 1089.1,408.14 1088.6,408.78 1088.1,409.41 1087.6,410.05 1087.1,410.68 1086.6,411.32 1086.1,411.95 1085.6,412.59 1085.1,413.22 1084.6,413.6 1084.1,413.6 1083.6,413.6 1083.1,413.6 1082.6,413.6 1082.1,413.6 1081.6,413.6 1081.1,413.6 1080.6,413.6 1080.1,413.6 1079.6,413.6 1079.1,413.6 1078.6,413.6 1078.1,413.6 1077.6,413.6 1077.1,413.6 1076.6,413.6 1076.1,413.6 1075.6,413.6 1075.1,413.6 1074.6,413.6 1074.1,413.6 1073.6,413.6 1073.1,413.6 1072.6,413.6 1072.1,413.6 1071.6,413.6 1071.1,413.6 1070.6,413.6 1070.1,413.6 1069.6,413.6 1069.1,413.6 1068.6,413.6 1068.1,413.6 1067.6,413.6 1067.1,413.6 1066.6,413.6 1066.1,413.6 1065.6,413.6 1065.1,413.6 1064.6,413.6 1064.1,413.6 1063.6,413.6 1063.1,413.6 1062.6,413.6 1062.1,413.6 1061.6,413.6 1061.1,413.6 1060.6,413.6 1060.1,413.6 1059.6,413.6 1059.1,413.6 1058.6,413.6 1058.1,413.6 1057.6,413.6 1057.1,413.6 1056.6,413.6 1056.1,413.6 1055.6,413.6 1055.1,413.8 1054.6,414.05 1054.1,414.3 1053.6,414.55 1053.1,414.8 1052.6,415.05 1052.1,415.3 1051.6,415.55 1051.1,415.8 1050.6,416.05 1050.1,416.3 1049.6,416.55 1049.1,416.8 1048.6,417.19 1048.1,418.11 1047.6,419.04 1047.1,419.96 1046.6,420.89 1046.1,421.81 1045.6,422.74 1045.1,423.66 1044.6,424.59 1044.1,425.51 1043.6,426.44 1043.1,427.36 1042.6,428.29 1042.1,429.21 1041.6,430.03 1041.1,430.82 1040.6,431.61 1040.1,432.4 1039.6,433.19 1039.1,433.98 1038.6,434.77 1038.1,435.56 1037.6,436.35 1037.1,437.14 1036.6,437.93 1036.1,438.4 1035.6,438.4 1035.1,438.4 1034.6,438.4 1034.1,438.4 1033.6,438.4 1033.1,438.4 1032.6,438.4 1032.1,438.4 1031.6,438.4 1031.1,438.4 1030.6,438.4 1030.1,438.4 1029.6,438.4 1029.1,438.4 1028.6,438.4 1028.1,438.4 1027.6,438.4 1027.1,438.4 1026.6,438.4 1026.1,438.4 1025.6,438.4 1025.1,438.4 1024.6,438.4 1024.1,438.4 1023.6,438.4 1023.1,438.4 1022.6,438.4 1022.1,438.4 1021.6,438.4 1021.1,438.4 1020.6,438.4 1020.1,438.4 1019.6,438.4 1019.1,438.4 1018.6,438.4 1018.1,438.4 1017.6,438.4 1017.1,438.4 1016.6,438.4 1016.1,438.4 1015.6,438.4 1015.1,438.4 1014.6,438.4 1014.1,438.4 1013.6,438.4 1013.1,438.4 1012.6,438.4 1012.1,438.4 1011.6,438.4 1011.1,438.4 1010.6,438.4 1010.1,438.4 1009.6,438.4 1009.1,438.4 1008.6,438.4 1008.1,438.4 1007.6,438.4 1007.1,438.4 1006.6,438.53 1006.1,438.69 1005.6,438.85 1005.1,439.01 1004.6,439.17 1004.1,439.33 1003.6,439.49 1003.1,439.65 1002.6,439.81 1002.1,439.97 1001.6,440.14 1001.1,440.45 1000.6,440.86 1000.1,441.28 999.6,441.7 999.1,442.11 998.6,442.53 998.1,442.94 997.6,443.36 997.1,443.77 996.6,444.19 996.1,444.6 995.6,445.02 995.1,445.43 994.6,445.85 994.1,446.26 993.6,446.68 993.1,447.09 992.6,447.51 992.1,447.92 991.6,448.34 991.1,448.76 990.6,449.17 990.1,449.59 989.6,450 989.1,450.42 988.6,450.49 988.1,450.49 987.6,450.48 987.1,450.47 986.6,450.47 986.1,450.46 985.6,450.45 985.1,450.45 984.6,450.44 984.1,450.43 983.6,450.43 983.1,450.42 982.6,450.41 982.1,450.41 981.6,450.4 981.1,450.39 980.6,450.39 980.1,450.38 979.6,450.37 979.1,450.37 978.6,450.36 978.1,450.35 977.6,450.34 977.1,450.34 976.6,450.33 976.1,450.32 975.6,450.32 975.1,450.31 974.6,450.3 974.1,450.3 973.6,450.29 973.1,450.28 972.6,450.28 972.1,450.27 971.6,450.26 971.1,450.26 970.6,450.25 970.1,450.24 969.6,450.24 969.1,450.23 968.6,450.22 968.1,450.22 967.6,450.21 967.1,450.2 966.6,450.2 966.1,450.19 965.6,450.18 965.1,450.17 964.6,450.17 964.1,450.16 963.6,450.15 963.1,450.15 962.6,450.14 962.1,450.13 961.6,450.13 961.1,450.12 960.6,450.11 960.1,450.11 959.6,450.1 959.1,449.26 958.6,448.42 958.1,447.58 957.6,446.74 957.1,445.9 956.6,445.06 956.1,444.23 955.6,443.39 955.1,442.55 954.6,441.71 954.1,440.87 953.6,440.7 953.1,440.7 952.6,440.7 952.1,440.7 951.6,440.7 951.1,440.7 950.6,440.7 950.1,440.7 949.6,440.7 949.1,440.7 948.6,440.7 948.1,440.7 947.6,440.7 947.1,440.7 946.6,440.7 946.1,440.7 945.6,440.7 945.1,440.7 944.6,440.7 944.1,440.7 943.6,440.7 943.1,440.7 942.6,440.7 942.1,440.7 941.6,440.7 941.1,440.7 940.6,440.7 940.1,440.7 939.6,440.7 939.1,440.7 938.6,440.7 938.1,440.7 937.6,440.7 937.1,440.7 936.6,440.7 936.1,440.7" fill="rgba(67,160,71,0.12)"/>
<rect x="7.38" y="644.75" width="4.7" height="4.25" fill="rgba(38,166,154,0.5)"/>
<rect x="13.35" y="635.9" width="4.7" height="13" fill="rgba(38,166,154,0.5)"/>
<rect x="19.32" y="641.25" width="4.7" height="7.65" fill="rgba(38,166,154,0.5)"/>
<rect x="25.29" y="635" width="4.7" height="13.9" fill="rgba(38,166,154,0.5)"/>
<rect x="31.26" y="635.9" width="4.7" height="13" fill="rgba(239,83,80,0.5)"/>
<rect x="37.23" y="630.9" width="4.7" height="18" fill="rgba(38,166,154,0.5)"/>
<rect x="43.2" y="635.9" width="4.7" height="13" fill="rgba(239,83,80,0.5)"/>
<rect x="49.17" y="632.5" width="4.7" height="16.4" fill="rgba(239,83,80,0.5)"/>
<rect x="55.14" y="626" width="4.7" height="22.9" fill="rgba(38,166,154,0.5)"/>
<rect x="61.11" y="606.9" width="4.7" height="42" fill="rgba(38,166,154,0.5)"/>
<rect x="67.08" y="620" width="4.7" height="28.9" fill="rgba(38,166,154,0.5)"/>
<rect x="73.06" y="614" width="4.7" height="34.9" fill="rgba(239,83,80,0.5)"/>
<rect x="79.03" y="578.75" width="4.7" height="70.15" fill="rgba(38,166,154,0.5)"/>
<rect x="85" y="614.75" width="4.7" height="34.15" fill="rgba(38,166,154,0.5)"/>
<rect x="90.97" y="623.75" width="4.7" height="25.15" fill="rgba(239,83,80,0.5)"/>
<rect x="96.94" y="617.5" width="4.7" height="31.4" fill="rgba(38,166,154,0.5)"/>
<rect x="102.91" y="627.1" width="4.7" height="21.8" fill="rgba(239,83,80,0.5)"/>
<rect x="108.88" y="633.1" width="4.7" height="15.8" fill="rgba(38,166,154,0.5)"/>
<rect x="114.85" y="635" width="4.7" height="13.9" fill="rgba(239,83,80,0.5)"/>
<rect x="120.82" y="630.9" width="4.7" height="18" fill="rgba(239,83,80,0.5)"/>
<rect x="126.79" y="627.1" width="4.7" height="21.8" fill="rgba(239,83,80,0.5)"/>
<rect x="132.76" y="631.6" width="4.7" height="17.3" fill="rgba(38,166,154,0.5)"/>
<rect x="138.73" y="624.4" width="4.7" height="24.5" fill="rgba(239,83,80,0.5)"/>
<rect x="144.7" y="619" width="4.7" height="29.9" fill="rgba(38,166,154,0.5)"/>
<rect x="150.67" y="629.75" width="4.7" height="19.15" fill="rgba(38,166,154,0.5)"/>
<rect x="156.64" y="635" width="4.7" height="13.9" fill="rgba(239,83,80,0.5)"/>
<rect x="162.61" y="632.5" width="4.7" height="16.4" fill="rgba(38,166,154,0.5)"/>
<rect x="168.58" y="625.25" width="4.7" height="23.65" fill="rgba(239,83,80,0.5)"/>
<rect x="174.55" y="608.75" width="4.7" height="40.15" fill="rgba(239,83,80,0.5)"/>
<rect x="180.52" y="593.75" width="4.7" height="55.15" fill="rgba(239,83,80,0.5)"/>
<rect x="186.49" y="600.9" width="4.7" height="48" fill="rgba(38,166,154,0.5)"/>
<rect x="192.47" y="630.9" width="4.7" height="18" fill="rgba(38,166,154,0.5)"/>
<rect x="198.44" y="630" width="4.7" height="18.9" fill="rgba(38,166,154,0.5)"/>
<rect x="204.41" y="595.6" width="4.7" height="53.3" fill="rgba(38,166,154,0.5)"/>
<rect x="210.38" y="614" width="4.7" height="34.9" fill="rgba(38,166,154,0.5)"/>
<rect x="216.35" y="616.9" width="4.7" height="32" fill="rgba(38,166,154,0.5)"/>
<rect x="222.32" y="628.1" width="4.7" height="20.8" fill="rgba(239,83,80,0.5)"/>
<rect x="228.29" y="630" width="4.7" height="18.9" fill="rgba(239,83,80,0.5)"/>
<rect x="234.26" y="600.9" width="4.7" height="48" fill="rgba(239,83,80,0.5)"/>
<rect x="240.23" y="577.9" width="4.7" height="71" fill="rgba(239,83,80,0.5)"/>
<rect x="246.2" y="594.6" width="4.7" height="54.3" fill="rgba(38,166,154,0.5)"/>
<rect x="252.17" y="603.4" width="4.7" height="45.5" fill="rgba(38,166,154,0.5)"/>
<rect x="258.14" y="621" width="4.7" height="27.9" fill="rgba(38,166,154,0.5)"/>
<rect x="264.11" y="593.75" width="4.7" height="55.15" fill="rgba(239,83,80,0.5)"/>
<rect x="270.08" y="617.5" width="4.7" height="31.4" fill="rgba(38,166,154,0.5)"/>
<rect x="276.05" y="627.1" width="4.7" height="21.8" fill="rgba(38,166,154,0.5)"/>
<rect x="282.02" y="627.1" width="4.7" height="21.8" fill="rgba(239,83,80,0.5)"/>
<rect x="287.99" y="607.1" width="4.7" height="41.8" fill="rgba(38,166,154,0.5)"/>
<rect x="293.96" y="626.25" width="4.7" height="22.65" fill="rgba(239,83,80,0.5)"/>
<rect x="299.93" y="623.75" width="4.7" height="25.15" fill="rgba(38,166,154,0.5)"/>
<rect x="305.9" y="615.9" width="4.7" height="33" fill="rgba(38,166,154,0.5)"/>
<rect x="311.88" y="628.1" width="4.7" height="20.8" fill="rgba(239,83,80,0.5)"/>
<rect x="317.85" y="619.1" width="4.7" height="29.8" fill="rgba(239,83,80,0.5)"/>
<rect x="323.82" y="602.5" width="4.7" height="46.4" fill="rgba(239,83,80,0.5)"/>
<rect x="329.79" y="584" width="4.7" height="64.9" fill="rgba(38,166,154,0.5)"/>
<rect x="335.76" y="615" width="4.7" height="33.9" fill="rgba(239,83,80,0.5)"/>
<rect x="341.73" y="619.1" width="4.7" height="29.8" fill="rgba(239,83,80,0.5)"/>
<rect x="347.7" y="623.75" width="4.7" height="25.15" fill="rgba(239,83,80,0.5)"/>
<rect x="353.67" y="625.25" width="4.7" height="23.65" fill="rgba(239,83,80,0.5)"/>
<rect x="359.64" y="638.75" width="4.7" height="10.15" fill="rgba(38,166,154,0.5)"/>
<rect x="365.61" y="640.4" width="4.7" height="8.5" fill="rgba(239,83,80,0.5)"/>
<rect x="371.58" y="635.9" width="4.7" height="13" fill="rgba(38,166,154,0.5)"/>
<rect x="377.55" y="630.9" width="4.7" height="18" fill="rgba(38,166,154,0.5)"/>
<rect x="383.52" y="628.1" width="4.7" height="20.8" fill="rgba(38,166,154,0.5)"/>
<rect x="389.49" y="629" width="4.7" height="19.9" fill="rgba(38,166,154,0.5)"/>
<rect x="395.46" y="624.6" width="4.7" height="24.3" fill="rgba(239,83,80,0.5)"/>
<rect x="401.43" y="629" width="4.7" height="19.9" fill="rgba(239,83,80,0.5)"/>
<rect x="407.4" y="635" width="4.7" height="13.9" fill="rgba(38,166,154,0.5)"/>
<rect x="413.37" y="621.9" width="4.7" height="27" fill="rgba(239,83,80,0.5)"/>
<rect x="419.34" y="578.75" width="4.7" height="70.15" fill="rgba(239,83,80,0.5)"/>
<rect x="425.31" y="616.9" width="4.7" height="32" fill="rgba(239,83,80,0.5)"/>
<rect x="431.28" y="619.1" width="4.7" height="29.8" fill="rgba(38,166,154,0.5)"/>
<rect x="437.26" y="601.6" width="4.7" height="47.3" fill="rgba(38,166,154,0.5)"/>
<rect x="443.23" y="633.1" width="4.7" height="15.8" fill="rgba(239,83,80,0.5)"/>
<rect x="449.2" y="627.1" width="4.7" height="21.8" fill="rgba(239,83,80,0.5)"/>
<rect x="455.17" y="592.9" width="4.7" height="56" fill="rgba(239,83,80,0.5)"/>
<rect x="461.14" y="557.65" width="4.7" height="91.25" fill="rgba(38,166,154,0.5)"/>
<rect x="467.11" y="585.9" width="4.7" height="63" fill="rgba(239,83,80,0.5)"/>
<rect x="473.08" y="603.4" width="4.7" height="45.5" fill="rgba(38,166,154,0.5)"/>
<rect x="479.05" y="596.25" width="4.7" height="52.65" fill="rgba(239,83,80,0.5)"/>
<rect x="485.02" y="615" width="4.7" height="33.9" fill="rgba(239,83,80,0.5)"/>
<rect x="490.99" y="593.75" width="4.7" height="55.15" fill="rgba(38,166,154,0.5)"/>
<rect x="496.96" y="599.1" width="4.7" height="49.8" fill="rgba(239,83,80,0.5)"/>
<rect x="502.93" y="576" width="4.7" height="72.9" fill="rgba(239,83,80,0.5)"/>
<rect x="508.9" y="606" width="4.7" height="42.9" fill="rgba(38,166,154,0.5)"/>
<rect x="514.87" y="613.1" width="4.7" height="35.8" fill="rgba(239,83,80,0.5)"/>
<rect x="520.84" y="609.6" width="4.7" height="39.3" fill="rgba(239,83,80,0.5)"/>
<rect x="526.81" y="632.5" width="4.7" height="16.4" fill="rgba(239,83,80,0.5)"/>
<rect x="532.78" y="621" width="4.7" height="27.9" fill="rgba(239,83,80,0.5)"/>
<rect x="538.75" y="610.4" width="4.7" height="38.5" fill="rgba(239,83,80,0.5)"/>
<rect x="544.72" y="607.1" width="4.7" height="41.8" fill="rgba(38,166,154,0.5)"/>
<rect x="550.69" y="607.1" width="4.7" height="41.8" fill="rgba(239,83,80,0.5)"/>
<rect x="556.67" y="606" width="4.7" height="42.9" fill="rgba(239,83,80,0.5)"/>
<rect x="562.64" y="617.5" width="4.7" height="31.4" fill="rgba(38,166,154,0.5)"/>
<rect x="568.61" y="634.1" width="4.7" height="14.8" fill="rgba(38,166,154,0.5)"/>
<rect x="574.58" y="629" width="4.7" height="19.9" fill="rgba(239,83,80,0.5)"/>
<rect x="580.55" y="627.1" width="4.7" height="21.8" fill="rgba(38,166,154,0.5)"/>
<rect x="586.52" y="628.1" width="4.7" height="20.8" fill="rgba(38,166,154,0.5)"/>
<rect x="592.49" y="612.25" width="4.7" height="36.65" fill="rgba(38,166,154,0.5)"/>
<rect x="598.46" y="615" width="4.7" height="33.9" fill="rgba(239,83,80,0.5)"/>
<rect x="604.43" y="598.1" width="4.7" height="50.8" fill="rgba(38,166,154,0.5)"/>
<rect x="610.4" y="611.25" width="4.7" height="37.65" fill="rgba(239,83,80,0.5)"/>
<rect x="616.37" y="615.9" width="4.7" height="33" fill="rgba(38,166,154,0.5)"/>
<rect x="622.34" y="594.6" width="4.7" height="54.3" fill="rgba(38,166,154,0.5)"/>
<rect x="628.31" y="612.25" width="4.7" height="36.65" fill="rgba(239,83,80,0.5)"/>
<rect x="634.28" y="495" width="4.7" height="153.9" fill="rgba(239,83,80,0.5)"/>
<rect x="640.25" y="610.4" width="4.7" height="38.5" fill="rgba(38,166,154,0.5)"/>
<rect x="646.22" y="610.4" width="4.7" height="38.5" fill="rgba(239,83,80,0.5)"/>
<rect x="652.19" y="625.25" width="4.7" height="23.65" fill="rgba(239,83,80,0.5)"/>
<rect x="658.16" y="630" width="4.7" height="18.9" fill="rgba(239,83,80,0.5)"/>
<rect x="664.13" y="621.9" width="4.7" height="27" fill="rgba(38,166,154,0.5)"/>
<rect x="670.1" y="621.9" width="4.7" height="27" fill="rgba(38,166,154,0.5)"/>
<rect x="676.08" y="607.9" width="4.7" height="41" fill="rgba(239,83,80,0.5)"/>
<rect x="682.05" y="600" width="4.7" height="48.9" fill="rgba(239,83,80,0.5)"/>
<rect x="688.02" y="602.75" width="4.7" height="46.15" fill="rgba(38,166,154,0.5)"/>
<rect x="693.99" y="635" width="4.7" height="13.9" fill="rgba(38,166,154,0.5)"/>
<rect x="699.96" y="603.4" width="4.7" height="45.5" fill="rgba(239,83,80,0.5)"/>
<rect x="705.93" y="564" width="4.7" height="84.9" fill="rgba(38,166,154,0.5)"/>
<rect x="711.9" y="572.5" width="4.7" height="76.4" fill="rgba(239,83,80,0.5)"/>
<rect x="717.87" y="571.6" width="4.7" height="77.3" fill="rgba(38,166,154,0.5)"/>
<rect x="723.84" y="594.6" width="4.7" height="54.3" fill="rgba(38,166,154,0.5)"/>
<rect x="729.81" y="613.1" width="4.7" height="35.8" fill="rgba(38,166,154,0.5)"/>
<rect x="735.78" y="608.75" width="4.7" height="40.15" fill="rgba(38,166,154,0.5)"/>
<rect x="741.75" y="603.4" width="4.7" height="45.5" fill="rgba(239,83,80,0.5)"/>
<rect x="747.72" y="613.1" width="4.7" height="35.8" fill="rgba(38,166,154,0.5)"/>
<rect x="753.69" y="618.4" width="4.7" height="30.5" fill="rgba(239,83,80,0.5)"/>
<rect x="759.66" y="603.4" width="4.7" height="45.5" fill="rgba(38,166,154,0.5)"/>
<rect x="765.63" y="580.25" width="4.7" height="68.65" fill="rgba(38,166,154,0.5)"/>
<rect x="771.6" y="601.6" width="4.7" height="47.3" fill="rgba(239,83,80,0.5)"/>
<rect x="777.57" y="604.4" width="4.7" height="44.5" fill="rgba(38,166,154,0.5)"/>
<rect x="783.54" y="626.25" width="4.7" height="22.65" fill="rgba(239,83,80,0.5)"/>
<rect x="789.51" y="609.75" width="4.7" height="39.15" fill="rgba(38,166,154,0.5)"/>
<rect x="795.49" y="605.25" width="4.7" height="43.65" fill="rgba(38,166,154,0.5)"/>
<rect x="801.46" y="605.25" width="4.7" height="43.65" fill="rgba(239,83,80,0.5)"/>
<rect x="807.43" y="622.1" width="4.7" height="26.8" fill="rgba(38,166,154,0.5)"/>
<rect x="813.4" y="633.4" width="4.7" height="15.5" fill="rgba(239,83,80,0.5)"/>
<rect x="819.37" y="635" width="4.7" height="13.9" fill="rgba(239,83,80,0.5)"/>
<rect x="825.34" y="636.9" width="4.7" height="12" fill="rgba(239,83,80,0.5)"/>
<rect x="831.31" y="623.75" width="4.7" height="25.15" fill="rgba(38,166,154,0.5)"/>
<rect x="837.28" y="621" width="4.7" height="27.9" fill="rgba(239,83,80,0.5)"/>
<rect x="843.25" y="619.1" width="4.7" height="29.8" fill="rgba(38,166,154,0.5)"/>
<rect x="849.22" y="612.1" width="4.7" height="36.8" fill="rgba(239,83,80,0.5)"/>
<rect x="855.19" y="619.1" width="4.7" height="29.8" fill="rgba(38,166,154,0.5)"/>
<rect x="861.16" y="634.1" width="4.7" height="14.8" fill="rgba(38,166,154,0.5)"/>
<rect x="867.13" y="634.1" width="4.7" height="14.8" fill="rgba(239,83,80,0.5)"/>
<rect x="873.1" y="622.1" width="4.7" height="26.8" fill="rgba(38,166,154,0.5)"/>
<rect x="879.07" y="614" width="4.7" height="34.9" fill="rgba(38,166,154,0.5)"/>
<rect x="885.04" y="616.9" width="4.7" height="32" fill="rgba(38,166,154,0.5)"/>
<rect x="891.01" y="605.25" width="4.7" height="43.65" fill="rgba(38,166,154,0.5)"/>
<rect x="896.98" y="601.6" width="4.7" height="47.3" fill="rgba(38,166,154,0.5)"/>
<rect x="902.95" y="624" width="4.7" height="24.9" fill="rgba(38,166,154,0.5)"/>
<rect x="908.92" y="610.4" width="4.7" height="38.5" fill="rgba(239,83,80,0.5)"/>
<rect x="914.9" y="614" width="4.7" height="34.9" fill="rgba(239,83,80,0.5)"/>
<rect x="920.87" y="618.4" width="4.7" height="30.5" fill="rgba(38,166,154,0.5)"/>
<rect x="926.84" y="628.1" width="4.7" height="20.8" fill="rgba(239,83,80,0.5)"/>
<rect x="932.81" y="620.25" width="4.7" height="28.65" fill="rgba(38,166,154,0.5)"/>
<rect x="938.78" y="625.4" width="4.7" height="23.5" fill="rgba(38,166,154,0.5)"/>
<rect x="944.75" y="626.25" width="4.7" height="22.65" fill="rgba(239,83,80,0.5)"/>
<rect x="950.72" y="626.25" width="4.7" height="22.65" fill="rgba(38,166,154,0.5)"/>
<rect x="956.69" y="605.25" width="4.7" height="43.65" fill="rgba(239,83,80,0.5)"/>
<rect x="962.66" y="623.1" width="4.7" height="25.8" fill="rgba(38,166,154,0.5)"/>
<rect x="968.63" y="606.25" width="4.7" height="42.65" fill="rgba(38,166,154,0.5)"/>
<rect x="974.6" y="603.4" width="4.7" height="45.5" fill="rgba(38,166,154,0.5)"/>
<rect x="980.57" y="592.9" width="4.7" height="56" fill="rgba(239,83,80,0.5)"/>
<rect x="986.54" y="611.25" width="4.7" height="37.65" fill="rgba(38,166,154,0.5)"/>
<rect x="992.51" y="605.25" width="4.7" height="43.65" fill="rgba(38,166,154,0.5)"/>
<rect x="998.48" y="599.1" width="4.7" height="49.8" fill="rgba(239,83,80,0.5)"/>
<rect x="1004.45" y="620.25" width="4.7" height="28.65" fill="rgba(239,83,80,0.5)"/>
<rect x="1010.42" y="622.9" width="4.7" height="26" fill="rgba(239,83,80,0.5)"/>
<rect x="1016.39" y="608.75" width="4.7" height="40.15" fill="rgba(239,83,80,0.5)"/>
<rect x="1022.36" y="611.25" width="4.7" height="37.65" fill="rgba(38,166,154,0.5)"/>
<rect x="1028.34" y="626.25" width="4.7" height="22.65" fill="rgba(239,83,80,0.5)"/>
<rect x="1034.31" y="630" width="4.7" height="18.9" fill="rgba(38,166,154,0.5)"/>
<rect x="1040.28" y="630" width="4.7" height="18.9" fill="rgba(38,166,154,0.5)"/>
<rect x="1046.25" y="622.9" width="4.7" height="26" fill="rgba(239,83,80,0.5)"/>
<rect x="1052.22" y="631.9" width="4.7" height="17" fill="rgba(239,83,80,0.5)"/>
<rect x="1058.19" y="620.25" width="4.7" height="28.65" fill="rgba(239,83,80,0.5)"/>
<rect x="1064.16" y="630.9" width="4.7" height="18" fill="rgba(239,83,80,0.5)"/>
<rect x="1070.13" y="637.9" width="4.7" height="11" fill="rgba(38,166,154,0.5)"/>
<rect x="1076.1" y="636" width="4.7" height="12.9" fill="rgba(38,166,154,0.5)"/>
<rect x="1082.07" y="627.1" width="4.7" height="21.8" fill="rgba(38,166,154,0.5)"/>
<rect x="1088.04" y="617.5" width="4.7" height="31.4" fill="rgba(38,166,154,0.5)"/>
<rect x="1094.01" y="626.25" width="4.7" height="22.65" fill="rgba(239,83,80,0.5)"/>
<rect x="1099.98" y="629" width="4.7" height="19.9" fill="rgba(239,83,80,0.5)"/>
<rect x="1105.95" y="616.9" width="4.7" height="32" fill="rgba(38,166,154,0.5)"/>
<rect x="1111.92" y="636" width="4.7" height="12.9" fill="rgba(239,83,80,0.5)"/>
<rect x="1117.89" y="636" width="4.7" height="12.9" fill="rgba(38,166,154,0.5)"/>
<rect x="1123.86" y="624.6" width="4.7" height="24.3" fill="rgba(38,166,154,0.5)"/>
<rect x="1129.83" y="622.9" width="4.7" height="26" fill="rgba(239,83,80,0.5)"/>
<rect x="1135.8" y="621" width="4.7" height="27.9" fill="rgba(239,83,80,0.5)"/>
<rect x="1141.77" y="626.25" width="4.7" height="22.65" fill="rgba(239,83,80,0.5)"/>
<rect x="1147.75" y="605.25" width="4.7" height="43.65" fill="rgba(239,83,80,0.5)"/>
<rect x="1153.72" y="624.6" width="4.7" height="24.3" fill="rgba(38,166,154,0.5)"/>
<rect x="1159.69" y="609.75" width="4.7" height="39.15" fill="rgba(38,166,154,0.5)"/>
<rect x="1165.66" y="615" width="4.7" height="33.9" fill="rgba(38,166,154,0.5)"/>
<rect x="1171.63" y="626.25" width="4.7" height="22.65" fill="rgba(239,83,80,0.5)"/>
<rect x="1177.6" y="632.5" width="4.7" height="16.4" fill="rgba(239,83,80,0.5)"/>
<rect x="1183.57" y="635" width="4.7" height="13.9" fill="rgba(239,83,80,0.5)"/>
<rect x="1189.54" y="641.25" width="4.7" height="7.65" fill="rgba(38,166,154,0.5)"/>
<rect x="1195.51" y="642.9" width="4.7" height="6" fill="rgba(38,166,154,0.5)"/>
<rect x="1201.48" y="641.25" width="4.7" height="7.65" fill="rgba(38,166,154,0.5)"/>
<rect x="1207.45" y="637.9" width="4.7" height="11" fill="rgba(239,83,80,0.5)"/>
<rect x="1213.42" y="634.1" width="4.7" height="14.8" fill="rgba(239,83,80,0.5)"/>
<rect x="1219.39" y="635" width="4.7" height="13.9" fill="rgba(38,166,154,0.5)"/>
<rect x="1225.36" y="632.5" width="4.7" height="16.4" fill="rgba(38,166,154,0.5)"/>
<rect x="1231.33" y="636" width="4.7" height="12.9" fill="rgba(239,83,80,0.5)"/>
<rect x="1237.3" y="639.6" width="4.7" height="9.3" fill="rgba(38,166,154,0.5)"/>
<rect x="1243.27" y="638.75" width="4.7" height="10.15" fill="rgba(38,166,154,0.5)"/>
<rect x="1249.24" y="639.6" width="4.7" height="9.3" fill="rgba(239,83,80,0.5)"/>
<rect x="1255.21" y="630.9" width="4.7" height="18" fill="rgba(38,166,154,0.5)"/>
<rect x="1261.18" y="624.6" width="4.7" height="24.3" fill="rgba(38,166,154,0.5)"/>
<rect x="1267.16" y="619.1" width="4.7" height="29.8" fill="rgba(38,166,154,0.5)"/>
<rect x="1273.13" y="618.4" width="4.7" height="30.5" fill="rgba(38,166,154,0.5)"/>
<rect x="1279.1" y="633.4" width="4.7" height="15.5" fill="rgba(38,166,154,0.5)"/>
<rect x="1285.07" y="630.9" width="4.7" height="18" fill="rgba(38,166,154,0.5)"/>
<rect x="1291.04" y="632.5" width="4.7" height="16.4" fill="rgba(239,83,80,0.5)"/>
<rect x="1297.01" y="633.4" width="4.7" height="15.5" fill="rgba(38,166,154,0.5)"/>
<rect x="1302.98" y="638" width="4.7" height="10.9" fill="rgba(239,83,80,0.5)"/>
<rect x="1308.95" y="636.4" width="4.7" height="12.5" fill="rgba(239,83,80,0.5)"/>
<line x1="11.5" x2="1600" y1="242.2" y2="242.2" stroke="#868686" stroke-width="1.1" stroke-dasharray="1.15,1.5"/>
<line x1="11.5" x2="1600" y1="523.5" y2="523.5" stroke="#868686" stroke-width="1.1" stroke-dasharray="1.15,1.5"/>
<polyline points="440.1,349.4 445.1,343.1 457.6,342.9 463.9,338.8 470.1,332.3 475.1,348.8 480.2,343.1 522.7,343.1 529.6,345 535.2,356.3 541.9,356.3 547.5,360.7 553.8,364 571.3,364 576.9,365 583.2,367.5 607,367.5 613.8,373.2 648.3,373.2 655.1,379.4 660.8,379.7 672.7,382.3 677.7,382.3 684.6,384.1 690.8,387.8 696.4,388.8 707.1,392.3 821.3,392.6 828.8,395 833.2,396.9 845.1,396.9 850.1,400 858.2,407.5 875.7,407.5 882.6,415.7 892.6,416.3 898.9,419.4 905.1,421.3 911.4,427.5 917.7,438.6 922.7,438.8 933.9,440.7 954,440.7 959.6,450.1 989,450.5 1001.4,440.2 1007,438.4 1036.3,438.4 1042,429.4 1048.7,417 1055.5,413.6 1084.8,413.6 1091.5,405.1 1097.1,401.9 1120.8,401.9 1126.4,384.3 1132.1,368.6 1138.8,368.1 1144.5,362.3 1150.1,360 1162.5,360 1169.2,355.1 1174.2,353.5 1180.5,347.2 1191.8,342.7 1216.5,342.7 1227.8,337.5 1234.1,335.9 1245.8,324.6 1270.6,324.3 1276.2,319.8 1286.4,319 1292,317.4 1299.9,317.2 1306.6,313.2 1311.5,312.8 1330,312.8" fill="none" stroke="rgba(212,58,54,0.6)" stroke-width="2" stroke-linejoin="round" stroke-linecap="round"/>
<polyline points="284.1,346 290.1,345.3 296.4,348.2 301.4,348.8 306.4,347.5 308.5,345 312,343.8 315.2,344.4 317.7,347.5 323.3,351.9 327.7,354.4 331.5,357.3 336.5,358.2 345.2,358.8 357.7,358.8 365.2,358.8 368.8,359.4 378.8,367.5 388.8,370 397.5,372.6 403.8,371.3 408.8,367.3 421.3,367 428.2,371.3 447.6,371.3 455.1,367.5 460.1,365.7 463.9,363.5 485.2,365 510.2,364 529,366.3 535.2,362.5 540,362.3 546.3,360.7 553.8,359.7 565,359.7 577.5,359 593.8,359 600.7,360.4 607,364.4 613.8,374.2 618.8,374.2 625.7,377.6 636.4,377.6 642.6,379.1 648.3,379.8 655.1,389.1 660.8,393.2 672.7,397 677.7,397.2 684.6,398.8 690.8,403.2 696.4,404.5 702.7,415.7 707.7,417 712.7,417.6 715.1,418.8 720.1,421.9 726.4,426.3 732.6,427.8 745.2,429.4 751.4,431.3 757.7,433.5 763.9,434.8 770.2,433.5 776.5,433.2 795.2,434.8 799,435.2 803.8,443.2 810,444.4 820,445.7 827.5,450.1 833.8,455.1 840.1,458.6 845.7,459.8 851.3,467 858.2,471.7 875.7,471.7 882.6,467 888.2,464.2 905.1,464.2 911.4,460.1 917.7,457.3 925.2,448.8 933.9,441.1 940.2,439.8 946.4,435.7 959,435.7 965.2,433.2 971.5,431.3 977.7,430 989,429.8 1001.4,420.8 1008.2,418.8 1013.8,415.9 1019.4,414.3 1026.2,409.8 1030.7,408.4 1036.3,405.1 1042,396.7 1048.7,384.3 1055.5,381 1061.1,380.5 1073.5,376.9 1079.1,376 1084.8,374.2 1091.5,366.3 1097.1,361.1 1102.8,360.7 1120.8,360.7 1126.4,344.9 1132.1,332.5 1138.8,330.3 1144.5,324.6 1150.1,320.8 1168.1,319.5 1173.8,316.4 1180.1,313.2 1186.3,311.6 1195.1,310.7 1200.1,308.8 1205.1,309.5 1217.6,311.1 1225.1,310.1 1233.9,307.6 1244,300 1255.2,294.4 1268.9,292.6 1276.4,285.1 1287.7,278.8 1292.7,280.1 1305.2,285.1 1311.5,285.3 1322.7,285.3 1330,287" fill="none" stroke="#4caf50" stroke-width="2" stroke-linejoin="round" stroke-linecap="round"/>
<text x="458.2" y="355.7" font-size="13" fill="#3d6dff" text-anchor="middle" textLength="90" lengthAdjust="spacingAndGlyphs" stroke="#3d6dff" stroke-width="0.12">Neutral Bearish</text>
<text x="678.2" y="436.9" font-size="13" fill="#3d6dff" text-anchor="middle" textLength="83.8" lengthAdjust="spacingAndGlyphs" stroke="#3d6dff" stroke-width="0.12">Strong Bearish</text>
<text x="672.4" y="488.6" font-size="13" fill="#3d6dff" text-anchor="middle" textLength="73.3" lengthAdjust="spacingAndGlyphs" stroke="#3d6dff" stroke-width="0.12">Weak Bullish</text>
<text x="763" y="467.6" font-size="13" fill="#3d6dff" text-anchor="middle" textLength="73.3" lengthAdjust="spacingAndGlyphs" stroke="#3d6dff" stroke-width="0.12">Weak Bullish</text>
<text x="1180.2" y="270" font-size="13" fill="#3d6dff" text-anchor="middle" textLength="77.8" lengthAdjust="spacingAndGlyphs" stroke="#3d6dff" stroke-width="0.12">Weak Bearish</text>
<text x="1246.4" y="305.3" font-size="13" fill="#3d6dff" text-anchor="middle" textLength="80.1" lengthAdjust="spacingAndGlyphs" stroke="#3d6dff" stroke-width="0.12">Strong Bullish</text>
<path d="M678.1,451.2 H691.9 Q693.9,451.2 693.9,453.2 V465.8 L685,472 L676.1,465.8 V453.2 Q676.1,451.2 678.1,451.2 Z" fill="#b22833"/>
<text x="685" y="460.2" font-size="7.4" fill="#fff" text-anchor="middle" font-weight="bold" stroke="#fff" stroke-width="0.12">C</text>
<path d="M679.6,484.8 L687.9,491 V504.8 Q687.9,506.8 685.9,506.8 H673.3 Q671.3,506.8 671.3,504.8 V491 Z" fill="#0b6b57"/>
<text x="679.6" y="500.6" font-size="7.4" fill="#fff" text-anchor="middle" font-weight="bold" stroke="#fff" stroke-width="0.12">E</text>
<path d="M1246.05,257.3 H1259.75 Q1261.75,257.3 1261.75,259.3 V272.5 L1252.9,278.2 L1244.05,272.5 V259.3 Q1244.05,257.3 1246.05,257.3 Z" fill="#b22833"/>
<text x="1252.9" y="266.6" font-size="7.4" fill="#fff" text-anchor="middle" font-weight="bold" stroke="#fff" stroke-width="0.12">C</text>
<path d="M1246.7,285.1 L1254.85,291.1 V305 Q1254.85,307 1252.85,307 H1240.55 Q1238.55,307 1238.55,305 V291.1 Z" fill="#0b6b57"/>
<text x="1246.7" y="300.75" font-size="7.4" fill="#fff" text-anchor="middle" font-weight="bold" stroke="#fff" stroke-width="0.12">E</text>
<polyline points="278.3,368.8 295,369 307.5,368.2 320,367.3 332.5,367.6 345,366.7 357.7,366.1 370,366.4 385,366.3 397.5,364.4 410,363.2 422.5,362.8 435,362.5 447.6,362.8 455,363.2 460,363.8 472.6,366.3 485.2,368.8 497.7,371.9 510.2,375.7 522.7,379.7 535.2,383.8 540,385.1 550.1,389.4 562.6,394.8 575.2,399.4 587.7,403.5 600.2,406.5 612.7,408.2 625.2,409 632.5,410.6 645,413.8 660,417.8 672.5,421.25 685,425.6 697.5,429.1 710,432.8 719.4,435.9 728.75,436.6 745.2,436.8 757.7,436.6 770.2,435.3 782.7,433.5 795.2,431.7 807.7,429.8 812.5,428.2 825,426.7 837.5,425.1 850.1,423 862.6,420.1 875.1,417.6 887.6,415.1 900.1,410.7 912.6,405.1 925.2,400.1 937.7,394.7 950.2,390.1 962.7,386.3 972.7,383.2 981.5,377.5 987.7,373.8 994,369.4 1000,365 1009.3,360.7 1025.1,355 1035.1,351.4 1047.6,346.4 1060.1,342 1072.6,338.8 1080.2,337 1085.2,335.1 1097.7,328.8 1110.2,323.2 1122.7,318.2 1135.2,314.7 1145.2,312.9 1155,312.8 1167.5,311.3 1180.1,310.1 1192.6,308.8 1205.1,306.6 1217.6,304.5 1230.1,302.8 1242.6,301.1 1255.2,299.1 1267.7,296.1 1280.2,292.3 1292.7,289.1 1305.2,285.7 1312.4,283.8" fill="none" stroke="#2962ff" stroke-width="1.25" stroke-linejoin="round" stroke-linecap="round"/>
<rect x="9.81" y="430" width="1.24" height="30" fill="#089981"/>
<rect x="8.03" y="430" width="4.8" height="30" fill="#089981"/>
<rect x="15.78" y="270" width="1.24" height="165.3" fill="#089981"/>
<rect x="14" y="411" width="4.8" height="20" fill="#089981"/>
<rect x="21.75" y="392" width="1.24" height="29.5" fill="#089981"/>
<rect x="19.97" y="399.7" width="4.8" height="12.3" fill="#089981"/>
<rect x="27.72" y="345.6" width="1.24" height="56.4" fill="#089981"/>
<rect x="25.94" y="362.6" width="4.8" height="37.6" fill="#089981"/>
<rect x="33.69" y="354.6" width="1.24" height="30.6" fill="#f23645"/>
<rect x="31.91" y="362.6" width="4.8" height="2.6" fill="#f23645"/>
<rect x="39.66" y="332.6" width="1.24" height="41.3" fill="#089981"/>
<rect x="37.88" y="343.1" width="4.8" height="22.1" fill="#089981"/>
<rect x="45.63" y="329.3" width="1.24" height="36.6" fill="#f23645"/>
<rect x="43.85" y="343.1" width="4.8" height="10.8" fill="#f23645"/>
<rect x="51.6" y="340.1" width="1.24" height="33.8" fill="#f23645"/>
<rect x="49.82" y="352.6" width="4.8" height="18.1" fill="#f23645"/>
<rect x="57.57" y="335.9" width="1.24" height="51" fill="#089981"/>
<rect x="55.79" y="358.1" width="4.8" height="12.6" fill="#089981"/>
<rect x="63.54" y="315.8" width="1.24" height="56.9" fill="#089981"/>
<rect x="61.76" y="328.1" width="4.8" height="30.8" fill="#089981"/>
<rect x="69.51" y="297" width="1.24" height="36.1" fill="#089981"/>
<rect x="67.73" y="315.8" width="4.8" height="13" fill="#089981"/>
<rect x="75.48" y="300" width="1.24" height="42.1" fill="#f23645"/>
<rect x="73.7" y="315.8" width="4.8" height="20.1" fill="#f23645"/>
<rect x="81.46" y="327.6" width="1.24" height="28.8" fill="#089981"/>
<rect x="79.68" y="335.1" width="4.8" height="1" fill="#089981"/>
<rect x="87.43" y="317.6" width="1.24" height="24.5" fill="#089981"/>
<rect x="85.65" y="328.1" width="4.8" height="7.8" fill="#089981"/>
<rect x="93.4" y="324.6" width="1.24" height="24.3" fill="#f23645"/>
<rect x="91.62" y="328.1" width="4.8" height="20.3" fill="#f23645"/>
<rect x="99.37" y="342.6" width="1.24" height="22.6" fill="#089981"/>
<rect x="97.59" y="343.4" width="4.8" height="5" fill="#089981"/>
<rect x="105.34" y="332.6" width="1.24" height="20" fill="#f23645"/>
<rect x="103.56" y="342.9" width="4.8" height="1" fill="#f23645"/>
<rect x="111.31" y="330.8" width="1.24" height="21.1" fill="#089981"/>
<rect x="109.53" y="330.8" width="4.8" height="14.3" fill="#089981"/>
<rect x="117.28" y="329.6" width="1.24" height="16.8" fill="#f23645"/>
<rect x="115.5" y="330.8" width="4.8" height="11.1" fill="#f23645"/>
<rect x="123.25" y="330.8" width="1.24" height="17.3" fill="#f23645"/>
<rect x="121.47" y="341.4" width="4.8" height="4.2" fill="#f23645"/>
<rect x="129.22" y="342.6" width="1.24" height="27.6" fill="#f23645"/>
<rect x="127.44" y="343.9" width="4.8" height="20.7" fill="#f23645"/>
<rect x="135.19" y="346.4" width="1.24" height="21.3" fill="#089981"/>
<rect x="133.41" y="348.4" width="4.8" height="16.8" fill="#089981"/>
<rect x="141.16" y="345.9" width="1.24" height="29.3" fill="#f23645"/>
<rect x="139.38" y="348.4" width="4.8" height="22.3" fill="#f23645"/>
<rect x="147.13" y="358.9" width="1.24" height="23" fill="#089981"/>
<rect x="145.35" y="360.9" width="4.8" height="10.5" fill="#089981"/>
<rect x="153.1" y="353.9" width="1.24" height="16.3" fill="#089981"/>
<rect x="151.32" y="357.1" width="4.8" height="4.8" fill="#089981"/>
<rect x="159.07" y="352.1" width="1.24" height="11" fill="#f23645"/>
<rect x="157.29" y="357.6" width="4.8" height="5" fill="#f23645"/>
<rect x="165.04" y="349.4" width="1.24" height="15.8" fill="#089981"/>
<rect x="163.26" y="356.4" width="4.8" height="6.2" fill="#089981"/>
<rect x="171.01" y="349.4" width="1.24" height="23.2" fill="#f23645"/>
<rect x="169.23" y="356.7" width="4.8" height="11.8" fill="#f23645"/>
<rect x="176.98" y="364.4" width="1.24" height="28.8" fill="#f23645"/>
<rect x="175.2" y="368.2" width="4.8" height="7.5" fill="#f23645"/>
<rect x="182.95" y="364.4" width="1.24" height="43.2" fill="#f23645"/>
<rect x="181.17" y="375.1" width="4.8" height="18.1" fill="#f23645"/>
<rect x="188.92" y="374.2" width="1.24" height="22.5" fill="#089981"/>
<rect x="187.14" y="389.2" width="4.8" height="4" fill="#089981"/>
<rect x="194.9" y="384.8" width="1.24" height="12.8" fill="#089981"/>
<rect x="193.12" y="387.2" width="4.8" height="2.5" fill="#089981"/>
<rect x="200.87" y="378.6" width="1.24" height="16.2" fill="#089981"/>
<rect x="199.09" y="385.7" width="4.8" height="1.9" fill="#089981"/>
<rect x="206.84" y="368.8" width="1.24" height="35.9" fill="#089981"/>
<rect x="205.06" y="382.3" width="4.8" height="4" fill="#089981"/>
<rect x="212.81" y="368.2" width="1.24" height="16.2" fill="#089981"/>
<rect x="211.03" y="371.3" width="4.8" height="11.6" fill="#089981"/>
<rect x="218.78" y="361.7" width="1.24" height="16.5" fill="#089981"/>
<rect x="217" y="361.9" width="4.8" height="10" fill="#089981"/>
<rect x="224.75" y="361.7" width="1.24" height="8.6" fill="#f23645"/>
<rect x="222.97" y="361.9" width="4.8" height="6.7" fill="#f23645"/>
<rect x="230.72" y="363.5" width="1.24" height="12.2" fill="#f23645"/>
<rect x="228.94" y="368.2" width="4.8" height="2.9" fill="#f23645"/>
<rect x="236.69" y="370.1" width="1.24" height="31" fill="#f23645"/>
<rect x="234.91" y="370.9" width="4.8" height="8.9" fill="#f23645"/>
<rect x="242.66" y="365.1" width="1.24" height="36" fill="#f23645"/>
<rect x="240.88" y="379.4" width="4.8" height="12.8" fill="#f23645"/>
<rect x="248.63" y="373.2" width="1.24" height="27.3" fill="#089981"/>
<rect x="246.85" y="391" width="4.8" height="1.2" fill="#089981"/>
<rect x="254.6" y="356.3" width="1.24" height="37.5" fill="#089981"/>
<rect x="252.82" y="370.1" width="4.8" height="20.6" fill="#089981"/>
<rect x="260.57" y="344.1" width="1.24" height="27.2" fill="#089981"/>
<rect x="258.79" y="361.9" width="4.8" height="8.4" fill="#089981"/>
<rect x="266.54" y="355.7" width="1.24" height="25.9" fill="#f23645"/>
<rect x="264.76" y="361.9" width="4.8" height="17.9" fill="#f23645"/>
<rect x="272.51" y="357.3" width="1.24" height="27.8" fill="#089981"/>
<rect x="270.73" y="371.1" width="4.8" height="8.7" fill="#089981"/>
<rect x="278.48" y="364.2" width="1.24" height="16.5" fill="#089981"/>
<rect x="276.7" y="370.3" width="4.8" height="1" fill="#089981"/>
<rect x="284.45" y="358.2" width="1.24" height="20.2" fill="#f23645"/>
<rect x="282.67" y="370.7" width="4.8" height="7.5" fill="#f23645"/>
<rect x="290.42" y="367.3" width="1.24" height="25.9" fill="#089981"/>
<rect x="288.64" y="368.8" width="4.8" height="9.4" fill="#089981"/>
<rect x="296.39" y="360" width="1.24" height="22.6" fill="#f23645"/>
<rect x="294.61" y="368.8" width="4.8" height="8.8" fill="#f23645"/>
<rect x="302.36" y="361.7" width="1.24" height="17.4" fill="#089981"/>
<rect x="300.58" y="366.1" width="4.8" height="11.2" fill="#089981"/>
<rect x="308.33" y="338.8" width="1.24" height="28.8" fill="#089981"/>
<rect x="306.55" y="343.1" width="4.8" height="23.8" fill="#089981"/>
<rect x="314.31" y="336.3" width="1.24" height="16.2" fill="#f23645"/>
<rect x="312.53" y="343.1" width="4.8" height="2.6" fill="#f23645"/>
<rect x="320.28" y="339.8" width="1.24" height="32.1" fill="#f23645"/>
<rect x="318.5" y="345" width="4.8" height="25.1" fill="#f23645"/>
<rect x="326.25" y="361.9" width="1.24" height="27.8" fill="#f23645"/>
<rect x="324.47" y="370.1" width="4.8" height="6.2" fill="#f23645"/>
<rect x="332.22" y="345" width="1.24" height="50.7" fill="#089981"/>
<rect x="330.44" y="356.5" width="4.8" height="20.4" fill="#089981"/>
<rect x="338.19" y="345" width="1.24" height="19.8" fill="#f23645"/>
<rect x="336.41" y="356.3" width="4.8" height="1.9" fill="#f23645"/>
<rect x="344.16" y="342.3" width="1.24" height="20.9" fill="#f23645"/>
<rect x="342.38" y="356.9" width="4.8" height="3.1" fill="#f23645"/>
<rect x="350.13" y="349.4" width="1.24" height="17.5" fill="#f23645"/>
<rect x="348.35" y="358.8" width="4.8" height="7.5" fill="#f23645"/>
<rect x="356.1" y="356.3" width="1.24" height="21.9" fill="#f23645"/>
<rect x="354.32" y="365.3" width="4.8" height="7.3" fill="#f23645"/>
<rect x="362.07" y="365.4" width="1.24" height="12" fill="#089981"/>
<rect x="360.29" y="369" width="4.8" height="3.6" fill="#089981"/>
<rect x="368.04" y="364.4" width="1.24" height="13.1" fill="#f23645"/>
<rect x="366.26" y="368.2" width="4.8" height="3.7" fill="#f23645"/>
<rect x="374.01" y="362.3" width="1.24" height="15.3" fill="#089981"/>
<rect x="372.23" y="369.4" width="4.8" height="2.5" fill="#089981"/>
<rect x="379.98" y="353.8" width="1.24" height="18.5" fill="#089981"/>
<rect x="378.2" y="366.9" width="4.8" height="2.5" fill="#089981"/>
<rect x="385.95" y="351.9" width="1.24" height="22.9" fill="#089981"/>
<rect x="384.17" y="352.2" width="4.8" height="16.3" fill="#089981"/>
<rect x="391.92" y="348.8" width="1.24" height="10.9" fill="#089981"/>
<rect x="390.14" y="349.4" width="4.8" height="3.1" fill="#089981"/>
<rect x="397.89" y="336" width="1.24" height="15.9" fill="#f23645"/>
<rect x="396.11" y="349.4" width="4.8" height="1" fill="#f23645"/>
<rect x="403.86" y="345" width="1.24" height="10.7" fill="#f23645"/>
<rect x="402.08" y="349.4" width="4.8" height="4.4" fill="#f23645"/>
<rect x="409.83" y="345" width="1.24" height="8.8" fill="#089981"/>
<rect x="408.05" y="345.6" width="4.8" height="7.9" fill="#089981"/>
<rect x="415.8" y="345" width="1.24" height="12.8" fill="#f23645"/>
<rect x="414.02" y="345.9" width="4.8" height="9.1" fill="#f23645"/>
<rect x="421.77" y="339.8" width="1.24" height="36.8" fill="#f23645"/>
<rect x="419.99" y="355" width="4.8" height="8.8" fill="#f23645"/>
<rect x="427.74" y="360.7" width="1.24" height="13.1" fill="#f23645"/>
<rect x="425.96" y="362.8" width="4.8" height="1" fill="#f23645"/>
<rect x="433.71" y="350.7" width="1.24" height="13.1" fill="#089981"/>
<rect x="431.94" y="361.5" width="4.8" height="2" fill="#089981"/>
<rect x="439.69" y="350" width="1.24" height="16.9" fill="#089981"/>
<rect x="437.91" y="357.8" width="4.8" height="3.5" fill="#089981"/>
<rect x="445.66" y="356.9" width="1.24" height="5.4" fill="#f23645"/>
<rect x="443.88" y="357.8" width="4.8" height="1.2" fill="#f23645"/>
<rect x="451.63" y="357.8" width="1.24" height="16" fill="#f23645"/>
<rect x="449.85" y="358.2" width="4.8" height="12.1" fill="#f23645"/>
<rect x="457.6" y="368.2" width="1.24" height="27.5" fill="#f23645"/>
<rect x="455.82" y="369.8" width="4.8" height="25.9" fill="#f23645"/>
<rect x="463.57" y="388.2" width="1.24" height="33.3" fill="#089981"/>
<rect x="461.79" y="393.8" width="4.8" height="1.9" fill="#089981"/>
<rect x="469.54" y="383.2" width="1.24" height="25" fill="#f23645"/>
<rect x="467.76" y="393" width="4.8" height="5.6" fill="#f23645"/>
<rect x="475.51" y="384.8" width="1.24" height="13.8" fill="#089981"/>
<rect x="473.73" y="386.9" width="4.8" height="11.7" fill="#089981"/>
<rect x="481.48" y="386.9" width="1.24" height="20.4" fill="#f23645"/>
<rect x="479.7" y="387.2" width="4.8" height="8.6" fill="#f23645"/>
<rect x="487.45" y="391.1" width="1.24" height="13.7" fill="#f23645"/>
<rect x="485.67" y="395.3" width="4.8" height="3.3" fill="#f23645"/>
<rect x="493.42" y="386.6" width="1.24" height="23.4" fill="#089981"/>
<rect x="491.64" y="391" width="4.8" height="7.6" fill="#089981"/>
<rect x="499.39" y="386.4" width="1.24" height="31.6" fill="#f23645"/>
<rect x="497.61" y="391" width="4.8" height="23.5" fill="#f23645"/>
<rect x="505.36" y="411.2" width="1.24" height="27.9" fill="#f23645"/>
<rect x="503.58" y="414" width="4.8" height="7.3" fill="#f23645"/>
<rect x="511.33" y="413" width="1.24" height="16.4" fill="#089981"/>
<rect x="509.55" y="420" width="4.8" height="1" fill="#089981"/>
<rect x="517.3" y="416.3" width="1.24" height="26.3" fill="#f23645"/>
<rect x="515.52" y="421" width="4.8" height="17.8" fill="#f23645"/>
<rect x="523.27" y="428.2" width="1.24" height="18.8" fill="#f23645"/>
<rect x="521.49" y="438.6" width="4.8" height="4.2" fill="#f23645"/>
<rect x="529.24" y="431.3" width="1.24" height="11.6" fill="#f23645"/>
<rect x="527.46" y="442.2" width="4.8" height="1" fill="#f23645"/>
<rect x="535.21" y="436.9" width="1.24" height="14.4" fill="#f23645"/>
<rect x="533.43" y="441.9" width="4.8" height="8.8" fill="#f23645"/>
<rect x="541.18" y="439.4" width="1.24" height="24.3" fill="#f23645"/>
<rect x="539.4" y="449.1" width="4.8" height="12.9" fill="#f23645"/>
<rect x="547.15" y="445.7" width="1.24" height="21.3" fill="#089981"/>
<rect x="545.37" y="457" width="4.8" height="5" fill="#089981"/>
<rect x="553.12" y="452" width="1.24" height="22.4" fill="#f23645"/>
<rect x="551.35" y="457" width="4.8" height="8.5" fill="#f23645"/>
<rect x="559.1" y="459" width="1.24" height="19.5" fill="#f23645"/>
<rect x="557.32" y="465" width="4.8" height="10.9" fill="#f23645"/>
<rect x="565.07" y="448.1" width="1.24" height="28.2" fill="#089981"/>
<rect x="563.29" y="457.1" width="4.8" height="18.8" fill="#089981"/>
<rect x="571.04" y="445.6" width="1.24" height="11.9" fill="#089981"/>
<rect x="569.26" y="450" width="4.8" height="7.5" fill="#089981"/>
<rect x="577.01" y="449.8" width="1.24" height="19.2" fill="#f23645"/>
<rect x="575.23" y="450" width="4.8" height="18.2" fill="#f23645"/>
<rect x="582.98" y="454.4" width="1.24" height="13.8" fill="#089981"/>
<rect x="581.2" y="464.3" width="4.8" height="3.9" fill="#089981"/>
<rect x="588.95" y="451" width="1.24" height="17" fill="#089981"/>
<rect x="587.17" y="452.5" width="4.8" height="12.2" fill="#089981"/>
<rect x="594.92" y="434.2" width="1.24" height="22.3" fill="#089981"/>
<rect x="593.14" y="436.9" width="4.8" height="16.3" fill="#089981"/>
<rect x="600.89" y="434.4" width="1.24" height="20.4" fill="#f23645"/>
<rect x="599.11" y="436.9" width="4.8" height="16.3" fill="#f23645"/>
<rect x="606.86" y="433.2" width="1.24" height="22.5" fill="#089981"/>
<rect x="605.08" y="433.2" width="4.8" height="20" fill="#089981"/>
<rect x="612.83" y="424.4" width="1.24" height="13.8" fill="#f23645"/>
<rect x="611.05" y="433.2" width="4.8" height="4.4" fill="#f23645"/>
<rect x="618.8" y="428.8" width="1.24" height="8.5" fill="#089981"/>
<rect x="617.02" y="428.8" width="4.8" height="8.5" fill="#089981"/>
<rect x="624.77" y="419" width="1.24" height="15.4" fill="#089981"/>
<rect x="622.99" y="424.4" width="4.8" height="5" fill="#089981"/>
<rect x="630.74" y="421.9" width="1.24" height="10.9" fill="#f23645"/>
<rect x="628.96" y="424.4" width="4.8" height="8.2" fill="#f23645"/>
<rect x="636.71" y="431.9" width="1.24" height="43.4" fill="#f23645"/>
<rect x="634.93" y="432.3" width="4.8" height="22.3" fill="#f23645"/>
<rect x="642.68" y="441.3" width="1.24" height="13.7" fill="#089981"/>
<rect x="640.9" y="447.3" width="4.8" height="6.9" fill="#089981"/>
<rect x="648.65" y="444" width="1.24" height="22.5" fill="#f23645"/>
<rect x="646.87" y="447.3" width="4.8" height="15.6" fill="#f23645"/>
<rect x="654.62" y="459.8" width="1.24" height="15.5" fill="#f23645"/>
<rect x="652.84" y="461.9" width="4.8" height="8.1" fill="#f23645"/>
<rect x="660.59" y="466.9" width="1.24" height="10.6" fill="#f23645"/>
<rect x="658.81" y="469.4" width="4.8" height="5" fill="#f23645"/>
<rect x="666.56" y="460.7" width="1.24" height="16.8" fill="#089981"/>
<rect x="664.78" y="466.9" width="4.8" height="7.5" fill="#089981"/>
<rect x="672.53" y="455" width="1.24" height="15" fill="#089981"/>
<rect x="670.75" y="463.2" width="4.8" height="4.1" fill="#089981"/>
<rect x="678.51" y="448.8" width="1.24" height="35.8" fill="#f23645"/>
<rect x="676.73" y="463.2" width="4.8" height="21.4" fill="#f23645"/>
<rect x="684.48" y="471.7" width="1.24" height="22" fill="#f23645"/>
<rect x="682.7" y="484.2" width="4.8" height="1" fill="#f23645"/>
<rect x="690.45" y="474.5" width="1.24" height="19.2" fill="#089981"/>
<rect x="688.67" y="481.5" width="4.8" height="3.5" fill="#089981"/>
<rect x="696.42" y="477" width="1.24" height="11.8" fill="#089981"/>
<rect x="694.64" y="479.9" width="4.8" height="2.9" fill="#089981"/>
<rect x="702.39" y="478.7" width="1.24" height="32" fill="#f23645"/>
<rect x="700.61" y="479.9" width="4.8" height="27" fill="#f23645"/>
<rect x="708.36" y="486.3" width="1.24" height="36.3" fill="#089981"/>
<rect x="706.58" y="488" width="4.8" height="18.9" fill="#089981"/>
<rect x="714.33" y="471.9" width="1.24" height="26.9" fill="#f23645"/>
<rect x="712.55" y="488.2" width="4.8" height="3.7" fill="#f23645"/>
<rect x="720.3" y="448.9" width="1.24" height="43.7" fill="#089981"/>
<rect x="718.52" y="459.6" width="4.8" height="32.3" fill="#089981"/>
<rect x="726.27" y="448.4" width="1.24" height="14.8" fill="#089981"/>
<rect x="724.49" y="452.4" width="4.8" height="7.6" fill="#089981"/>
<rect x="732.24" y="432.3" width="1.24" height="24" fill="#089981"/>
<rect x="730.46" y="435.1" width="4.8" height="17.5" fill="#089981"/>
<rect x="738.21" y="423.5" width="1.24" height="17.2" fill="#089981"/>
<rect x="736.43" y="428.2" width="4.8" height="7.5" fill="#089981"/>
<rect x="744.18" y="423.5" width="1.24" height="19.1" fill="#f23645"/>
<rect x="742.4" y="428.2" width="4.8" height="10.6" fill="#f23645"/>
<rect x="750.15" y="429.4" width="1.24" height="9.4" fill="#089981"/>
<rect x="748.37" y="435.1" width="4.8" height="3.7" fill="#089981"/>
<rect x="756.12" y="424" width="1.24" height="18.6" fill="#f23645"/>
<rect x="754.34" y="434.8" width="4.8" height="7.8" fill="#f23645"/>
<rect x="762.09" y="428.8" width="1.24" height="18.1" fill="#089981"/>
<rect x="760.31" y="434" width="4.8" height="8.6" fill="#089981"/>
<rect x="768.06" y="420" width="1.24" height="16.9" fill="#089981"/>
<rect x="766.28" y="420.7" width="4.8" height="14.1" fill="#089981"/>
<rect x="774.03" y="417.5" width="1.24" height="11" fill="#f23645"/>
<rect x="772.25" y="420.7" width="4.8" height="1" fill="#f23645"/>
<rect x="780" y="410.6" width="1.24" height="14.2" fill="#089981"/>
<rect x="778.22" y="411" width="4.8" height="10.5" fill="#089981"/>
<rect x="785.97" y="407.5" width="1.24" height="13.2" fill="#f23645"/>
<rect x="784.19" y="411" width="4.8" height="5.9" fill="#f23645"/>
<rect x="791.95" y="408.1" width="1.24" height="11.3" fill="#089981"/>
<rect x="790.17" y="409.8" width="4.8" height="5.9" fill="#089981"/>
<rect x="797.92" y="400.6" width="1.24" height="12.9" fill="#089981"/>
<rect x="796.14" y="401.3" width="4.8" height="9.3" fill="#089981"/>
<rect x="803.89" y="400.6" width="1.24" height="11.2" fill="#f23645"/>
<rect x="802.11" y="401.2" width="4.8" height="7.5" fill="#f23645"/>
<rect x="809.86" y="403.1" width="1.24" height="12" fill="#089981"/>
<rect x="808.08" y="405.2" width="4.8" height="3.5" fill="#089981"/>
<rect x="815.83" y="401.5" width="1.24" height="9.2" fill="#f23645"/>
<rect x="814.05" y="405.2" width="4.8" height="4.6" fill="#f23645"/>
<rect x="821.8" y="408.2" width="1.24" height="8.4" fill="#f23645"/>
<rect x="820.02" y="409.2" width="4.8" height="4.4" fill="#f23645"/>
<rect x="827.77" y="410.3" width="1.24" height="9.4" fill="#f23645"/>
<rect x="825.99" y="413.2" width="4.8" height="5.6" fill="#f23645"/>
<rect x="833.74" y="406.1" width="1.24" height="17.1" fill="#089981"/>
<rect x="831.96" y="406.7" width="4.8" height="12.1" fill="#089981"/>
<rect x="839.71" y="401.3" width="1.24" height="9.4" fill="#f23645"/>
<rect x="837.93" y="407" width="4.8" height="1.2" fill="#f23645"/>
<rect x="845.68" y="393.6" width="1.24" height="22.5" fill="#089981"/>
<rect x="843.9" y="394.1" width="4.8" height="13.5" fill="#089981"/>
<rect x="851.65" y="385.7" width="1.24" height="15.6" fill="#f23645"/>
<rect x="849.87" y="394.1" width="4.8" height="1" fill="#f23645"/>
<rect x="857.62" y="383.2" width="1.24" height="12.5" fill="#089981"/>
<rect x="855.84" y="388.2" width="4.8" height="7.5" fill="#089981"/>
<rect x="863.59" y="383.2" width="1.24" height="10.6" fill="#089981"/>
<rect x="861.81" y="387.3" width="4.8" height="1.3" fill="#089981"/>
<rect x="869.56" y="384.8" width="1.24" height="11.8" fill="#f23645"/>
<rect x="867.78" y="386.9" width="4.8" height="9" fill="#f23645"/>
<rect x="875.53" y="388.2" width="1.24" height="8.4" fill="#089981"/>
<rect x="873.75" y="392.8" width="4.8" height="3.8" fill="#089981"/>
<rect x="881.5" y="385.3" width="1.24" height="13.3" fill="#089981"/>
<rect x="879.72" y="386.9" width="4.8" height="6.3" fill="#089981"/>
<rect x="887.47" y="383.2" width="1.24" height="5.6" fill="#089981"/>
<rect x="885.69" y="386.3" width="4.8" height="1" fill="#089981"/>
<rect x="893.44" y="366.9" width="1.24" height="20.9" fill="#089981"/>
<rect x="891.66" y="369.4" width="4.8" height="17.9" fill="#089981"/>
<rect x="899.41" y="353.1" width="1.24" height="18.8" fill="#089981"/>
<rect x="897.63" y="360" width="4.8" height="10" fill="#089981"/>
<rect x="905.38" y="348.1" width="1.24" height="14.4" fill="#089981"/>
<rect x="903.6" y="349.4" width="4.8" height="11.3" fill="#089981"/>
<rect x="911.36" y="347.8" width="1.24" height="17.9" fill="#f23645"/>
<rect x="909.58" y="349.4" width="4.8" height="9.1" fill="#f23645"/>
<rect x="917.33" y="352.3" width="1.24" height="17.1" fill="#f23645"/>
<rect x="915.55" y="358.1" width="4.8" height="1" fill="#f23645"/>
<rect x="923.3" y="348.8" width="1.24" height="19.7" fill="#089981"/>
<rect x="921.52" y="352.1" width="4.8" height="6.7" fill="#089981"/>
<rect x="929.27" y="349.8" width="1.24" height="9.6" fill="#f23645"/>
<rect x="927.49" y="352.1" width="4.8" height="4.2" fill="#f23645"/>
<rect x="935.24" y="349" width="1.24" height="13.3" fill="#089981"/>
<rect x="933.46" y="349.4" width="4.8" height="7.5" fill="#089981"/>
<rect x="941.21" y="337" width="1.24" height="14.7" fill="#089981"/>
<rect x="939.43" y="345.7" width="4.8" height="3.9" fill="#089981"/>
<rect x="947.18" y="332.8" width="1.24" height="19.8" fill="#f23645"/>
<rect x="945.4" y="345.7" width="4.8" height="6.2" fill="#f23645"/>
<rect x="953.15" y="342.5" width="1.24" height="9.3" fill="#089981"/>
<rect x="951.37" y="344" width="4.8" height="7.8" fill="#089981"/>
<rect x="959.12" y="342.5" width="1.24" height="13.7" fill="#f23645"/>
<rect x="957.34" y="343.3" width="4.8" height="4.7" fill="#f23645"/>
<rect x="965.09" y="345" width="1.24" height="9.6" fill="#089981"/>
<rect x="963.31" y="347.1" width="4.8" height="1.3" fill="#089981"/>
<rect x="971.06" y="333.5" width="1.24" height="16.2" fill="#089981"/>
<rect x="969.28" y="337" width="4.8" height="11.1" fill="#089981"/>
<rect x="977.03" y="305.4" width="1.24" height="31.5" fill="#089981"/>
<rect x="975.25" y="308.9" width="4.8" height="28" fill="#089981"/>
<rect x="983" y="289" width="1.24" height="25.8" fill="#f23645"/>
<rect x="981.22" y="309.1" width="4.8" height="2" fill="#f23645"/>
<rect x="988.97" y="293.8" width="1.24" height="21" fill="#089981"/>
<rect x="987.19" y="301.9" width="4.8" height="9.2" fill="#089981"/>
<rect x="994.94" y="281.3" width="1.24" height="26.3" fill="#089981"/>
<rect x="993.16" y="282.9" width="4.8" height="19.4" fill="#089981"/>
<rect x="1000.91" y="278.8" width="1.24" height="14.7" fill="#f23645"/>
<rect x="999.13" y="282.9" width="4.8" height="9" fill="#f23645"/>
<rect x="1006.88" y="284" width="1.24" height="14.2" fill="#f23645"/>
<rect x="1005.1" y="291" width="4.8" height="6.8" fill="#f23645"/>
<rect x="1012.85" y="294.8" width="1.24" height="18" fill="#f23645"/>
<rect x="1011.07" y="297.3" width="4.8" height="7.5" fill="#f23645"/>
<rect x="1018.82" y="301" width="1.24" height="19.1" fill="#f23645"/>
<rect x="1017.04" y="304" width="4.8" height="16.1" fill="#f23645"/>
<rect x="1024.79" y="304.4" width="1.24" height="19.2" fill="#089981"/>
<rect x="1023.01" y="312.3" width="4.8" height="7.8" fill="#089981"/>
<rect x="1030.77" y="307.8" width="1.24" height="15" fill="#f23645"/>
<rect x="1028.98" y="312.2" width="4.8" height="1" fill="#f23645"/>
<rect x="1036.74" y="304" width="1.24" height="14.2" fill="#089981"/>
<rect x="1034.96" y="305" width="4.8" height="7.8" fill="#089981"/>
<rect x="1042.71" y="294" width="1.24" height="19.8" fill="#089981"/>
<rect x="1040.93" y="294.8" width="4.8" height="10.9" fill="#089981"/>
<rect x="1048.68" y="286.9" width="1.24" height="10.9" fill="#f23645"/>
<rect x="1046.9" y="295" width="4.8" height="2.3" fill="#f23645"/>
<rect x="1054.65" y="291" width="1.24" height="12.2" fill="#f23645"/>
<rect x="1052.87" y="296.9" width="4.8" height="1.9" fill="#f23645"/>
<rect x="1060.62" y="294.8" width="1.24" height="18" fill="#f23645"/>
<rect x="1058.84" y="297.8" width="4.8" height="9.1" fill="#f23645"/>
<rect x="1066.59" y="298.2" width="1.24" height="12.1" fill="#f23645"/>
<rect x="1064.81" y="306.3" width="4.8" height="4" fill="#f23645"/>
<rect x="1072.56" y="301" width="1.24" height="10.1" fill="#089981"/>
<rect x="1070.78" y="301.5" width="4.8" height="8.8" fill="#089981"/>
<rect x="1078.53" y="294.8" width="1.24" height="8.4" fill="#089981"/>
<rect x="1076.75" y="301.7" width="4.8" height="1" fill="#089981"/>
<rect x="1084.5" y="282.5" width="1.24" height="20" fill="#089981"/>
<rect x="1082.72" y="283.1" width="4.8" height="19.2" fill="#089981"/>
<rect x="1090.47" y="269" width="1.24" height="16.7" fill="#089981"/>
<rect x="1088.69" y="269.8" width="4.8" height="14.2" fill="#089981"/>
<rect x="1096.44" y="263" width="1.24" height="12.5" fill="#f23645"/>
<rect x="1094.66" y="270.1" width="4.8" height="2.3" fill="#f23645"/>
<rect x="1102.41" y="263" width="1.24" height="14.7" fill="#f23645"/>
<rect x="1100.63" y="271.8" width="4.8" height="5.7" fill="#f23645"/>
<rect x="1108.38" y="267.2" width="1.24" height="23.4" fill="#089981"/>
<rect x="1106.6" y="269.9" width="4.8" height="7.7" fill="#089981"/>
<rect x="1114.35" y="268.1" width="1.24" height="15.5" fill="#f23645"/>
<rect x="1112.57" y="269" width="4.8" height="10.6" fill="#f23645"/>
<rect x="1120.32" y="272.5" width="1.24" height="7.6" fill="#089981"/>
<rect x="1118.54" y="274.4" width="4.8" height="4.2" fill="#089981"/>
<rect x="1126.29" y="255.8" width="1.24" height="19.9" fill="#089981"/>
<rect x="1124.51" y="271.1" width="4.8" height="3.9" fill="#089981"/>
<rect x="1132.26" y="264.8" width="1.24" height="20.7" fill="#f23645"/>
<rect x="1130.48" y="271.2" width="4.8" height="8.2" fill="#f23645"/>
<rect x="1138.23" y="274.4" width="1.24" height="14.5" fill="#f23645"/>
<rect x="1136.45" y="279.2" width="4.8" height="2.5" fill="#f23645"/>
<rect x="1144.2" y="278.9" width="1.24" height="18.1" fill="#f23645"/>
<rect x="1142.42" y="281" width="4.8" height="12.7" fill="#f23645"/>
<rect x="1150.18" y="287.6" width="1.24" height="22.9" fill="#f23645"/>
<rect x="1148.39" y="291.9" width="4.8" height="17.7" fill="#f23645"/>
<rect x="1156.15" y="300" width="1.24" height="21.4" fill="#089981"/>
<rect x="1154.37" y="303.5" width="4.8" height="6" fill="#089981"/>
<rect x="1162.12" y="296.6" width="1.24" height="21.6" fill="#089981"/>
<rect x="1160.34" y="297.2" width="4.8" height="7.6" fill="#089981"/>
<rect x="1168.09" y="285.1" width="1.24" height="24.4" fill="#089981"/>
<rect x="1166.31" y="286.9" width="4.8" height="10.7" fill="#089981"/>
<rect x="1174.06" y="283.2" width="1.24" height="11.9" fill="#f23645"/>
<rect x="1172.28" y="286.9" width="4.8" height="3.2" fill="#f23645"/>
<rect x="1180.03" y="282.3" width="1.24" height="11.5" fill="#f23645"/>
<rect x="1178.25" y="289.4" width="4.8" height="3.8" fill="#f23645"/>
<rect x="1186" y="286.9" width="1.24" height="10.9" fill="#f23645"/>
<rect x="1184.22" y="291.9" width="4.8" height="5.7" fill="#f23645"/>
<rect x="1191.97" y="290.1" width="1.24" height="8.7" fill="#089981"/>
<rect x="1190.19" y="293.8" width="4.8" height="4" fill="#089981"/>
<rect x="1197.94" y="287.6" width="1.24" height="7.5" fill="#089981"/>
<rect x="1196.16" y="288.6" width="4.8" height="5.8" fill="#089981"/>
<rect x="1203.91" y="278.8" width="1.24" height="10.6" fill="#089981"/>
<rect x="1202.13" y="279.8" width="4.8" height="9" fill="#089981"/>
<rect x="1209.88" y="273.8" width="1.24" height="8.5" fill="#f23645"/>
<rect x="1208.1" y="279.8" width="4.8" height="1.5" fill="#f23645"/>
<rect x="1215.85" y="280.1" width="1.24" height="12.7" fill="#f23645"/>
<rect x="1214.07" y="280.7" width="4.8" height="11.9" fill="#f23645"/>
<rect x="1221.82" y="277.3" width="1.24" height="15.5" fill="#089981"/>
<rect x="1220.04" y="279.8" width="4.8" height="12.8" fill="#089981"/>
<rect x="1227.79" y="273.5" width="1.24" height="7.2" fill="#089981"/>
<rect x="1226.01" y="277.8" width="4.8" height="2.5" fill="#089981"/>
<rect x="1233.76" y="277.3" width="1.24" height="11.8" fill="#f23645"/>
<rect x="1231.98" y="277.8" width="4.8" height="6.3" fill="#f23645"/>
<rect x="1239.73" y="280.7" width="1.24" height="4.6" fill="#089981"/>
<rect x="1237.95" y="282.1" width="4.8" height="1" fill="#089981"/>
<rect x="1245.7" y="279.1" width="1.24" height="5.3" fill="#089981"/>
<rect x="1243.92" y="280.1" width="4.8" height="3.1" fill="#089981"/>
<rect x="1251.67" y="278.2" width="1.24" height="8.1" fill="#f23645"/>
<rect x="1249.89" y="279.8" width="4.8" height="5.9" fill="#f23645"/>
<rect x="1257.64" y="282.3" width="1.24" height="9.6" fill="#089981"/>
<rect x="1255.86" y="284.4" width="4.8" height="1.3" fill="#089981"/>
<rect x="1263.61" y="274.4" width="1.24" height="10.7" fill="#089981"/>
<rect x="1261.83" y="276.1" width="4.8" height="8.3" fill="#089981"/>
<rect x="1269.59" y="262.8" width="1.24" height="14.1" fill="#089981"/>
<rect x="1267.81" y="264" width="4.8" height="12.6" fill="#089981"/>
<rect x="1275.56" y="251.9" width="1.24" height="13.8" fill="#089981"/>
<rect x="1273.78" y="254" width="4.8" height="10.4" fill="#089981"/>
<rect x="1281.53" y="250.6" width="1.24" height="7.9" fill="#089981"/>
<rect x="1279.75" y="251.5" width="4.8" height="3.3" fill="#089981"/>
<rect x="1287.5" y="243.1" width="1.24" height="8.8" fill="#089981"/>
<rect x="1285.72" y="245" width="4.8" height="6.5" fill="#089981"/>
<rect x="1293.47" y="241.9" width="1.24" height="10.6" fill="#f23645"/>
<rect x="1291.69" y="245.3" width="4.8" height="4.7" fill="#f23645"/>
<rect x="1299.44" y="246.9" width="1.24" height="5.6" fill="#089981"/>
<rect x="1297.66" y="249.6" width="4.8" height="1" fill="#089981"/>
<rect x="1305.41" y="246" width="1.24" height="7.8" fill="#f23645"/>
<rect x="1303.63" y="248.5" width="4.8" height="4" fill="#f23645"/>
<rect x="1311.38" y="250.6" width="1.24" height="5.1" fill="#f23645"/>
<rect x="1309.6" y="252.3" width="4.8" height="3" fill="#f23645"/>
<circle cx="457.7" cy="362.3" r="2.1" fill="#8b0a0a"/>
<polygon points="672.8,470.3 675.7,473.2 672.8,476.1 669.9,473.2" fill="#0a5c0a"/>
<polygon points="762.4,449.4 765.3,452.3 762.4,455.2 759.5,452.3" fill="#0a5c0a"/>
<polygon points="1180.4,274 1183.3,276.9 1180.4,279.8 1177.5,276.9" fill="#7d0a0a"/>
<polygon points="677,443 681.8,443 679.4,446.6" fill="rgba(225,50,60,0.75)" stroke="rgba(225,50,60,0.85)" stroke-width="0.5"/>
<line x1="11.5" x2="1600" y1="255.4" y2="255.4" stroke="#f23645" stroke-opacity="0.9" stroke-width="1.1" stroke-dasharray="1.15,1.5"/>
<circle cx="1311.9" cy="634.4" r="11.6" fill="#fff"/>
<circle cx="1311.9" cy="634.4" r="10.3" fill="#fff" stroke="#9c27b0" stroke-width="1.6"/>
<path d="M1315.6,627.8 L1306.6,635.3 L1311.6,635.3 L1308.2,641 L1317.2,633.5 L1312.2,633.5 Z" fill="#9c27b0"/>
</g>
<g>
<path d="M1329.2,86.5 H1516.2 V422.2 H1329.2 Q1327.2,422.2 1327.2,420.2 V266 L1317.2,255.5 L1327.2,245 V88.5 Q1327.2,86.5 1329.2,86.5 Z" fill="#434651"/>
<text x="1335.9" y="103.1" font-size="13" fill="#d1d4dc" textLength="146.7" lengthAdjust="spacingAndGlyphs" stroke="#d1d4dc" stroke-width="0.3">BACKTESTING STATISTICS</text>
<line x1="1336.1" x2="1467.1" y1="113.53" y2="113.53" stroke="#d1d4dc" stroke-width="1.1" stroke-dasharray="5.9,0.995"/>
<line x1="1336.1" x2="1467.1" y1="116.63" y2="116.63" stroke="#d1d4dc" stroke-width="1.1" stroke-dasharray="5.9,0.995"/>
<text x="1335.9" y="133.96" font-size="13" fill="#d1d4dc" textLength="176.6" lengthAdjust="spacingAndGlyphs" stroke="#d1d4dc" stroke-width="0.3">Trades: 2 (Closed: 2, Open: 0)</text>
<text x="1335.9" y="149.39" font-size="13" fill="#d1d4dc" textLength="42.8" lengthAdjust="spacingAndGlyphs" stroke="#d1d4dc" stroke-width="0.3">Wins: 0</text>
<text x="1335.9" y="164.82" font-size="13" fill="#d1d4dc" textLength="51.7" lengthAdjust="spacingAndGlyphs" stroke="#d1d4dc" stroke-width="0.3">Losses: 2</text>
<text x="1335.9" y="180.25" font-size="13" fill="#d1d4dc" textLength="101.8" lengthAdjust="spacingAndGlyphs" stroke="#d1d4dc" stroke-width="0.3">Win Rate: 0.000%</text>
<line x1="1336.1" x2="1490.7" y1="191.58" y2="191.58" stroke="#d1d4dc" stroke-width="1.2" stroke-dasharray="3.75,1.45"/>
<text x="1335.9" y="211.11" font-size="13" fill="#d1d4dc" textLength="121.3" lengthAdjust="spacingAndGlyphs" stroke="#d1d4dc" stroke-width="0.3">Net Profit(%): -4.000</text>
<text x="1335.9" y="226.54" font-size="13" fill="#d1d4dc" textLength="92" lengthAdjust="spacingAndGlyphs" stroke="#d1d4dc" stroke-width="0.3">Avg PnL: -2.000</text>
<text x="1335.9" y="241.97" font-size="13" fill="#d1d4dc" textLength="113.1" lengthAdjust="spacingAndGlyphs" stroke="#d1d4dc" stroke-width="0.3">Median PnL: -2.000</text>
<text x="1335.9" y="257.4" font-size="13" fill="#d1d4dc" textLength="101.4" lengthAdjust="spacingAndGlyphs" stroke="#d1d4dc" stroke-width="0.3">Mode PnL: -2.000</text>
<text x="1335.9" y="272.83" font-size="13" fill="#d1d4dc" textLength="91.1" lengthAdjust="spacingAndGlyphs" stroke="#d1d4dc" stroke-width="0.3">Min PnL: -2.000</text>
<text x="1335.9" y="288.26" font-size="13" fill="#d1d4dc" textLength="94.1" lengthAdjust="spacingAndGlyphs" stroke="#d1d4dc" stroke-width="0.3">Max PnL: -2.000</text>
<text x="1335.9" y="303.69" font-size="13" fill="#d1d4dc" textLength="97.9" lengthAdjust="spacingAndGlyphs" stroke="#d1d4dc" stroke-width="0.3">StdDev PnL: NaN</text>
<line x1="1336.1" x2="1490.7" y1="315.02" y2="315.02" stroke="#d1d4dc" stroke-width="1.2" stroke-dasharray="3.75,1.45"/>
<text x="1335.9" y="334.55" font-size="13" fill="#d1d4dc" textLength="130" lengthAdjust="spacingAndGlyphs" stroke="#d1d4dc" stroke-width="0.3">Avg Bars/Trade: 2.000</text>
<text x="1335.9" y="349.98" font-size="13" fill="#d1d4dc" textLength="111.6" lengthAdjust="spacingAndGlyphs" stroke="#d1d4dc" stroke-width="0.3">Median Bars: 2.000</text>
<text x="1335.9" y="365.41" font-size="13" fill="#d1d4dc" textLength="100.8" lengthAdjust="spacingAndGlyphs" stroke="#d1d4dc" stroke-width="0.3">Mode Bars: 2.000</text>
<text x="1335.9" y="380.84" font-size="13" fill="#d1d4dc" textLength="90.3" lengthAdjust="spacingAndGlyphs" stroke="#d1d4dc" stroke-width="0.3">Min Bars: 2.000</text>
<text x="1335.9" y="396.27" font-size="13" fill="#d1d4dc" textLength="92.6" lengthAdjust="spacingAndGlyphs" stroke="#d1d4dc" stroke-width="0.3">Max Bars: 2.000</text>
<text x="1335.9" y="411.7" font-size="13" fill="#d1d4dc" textLength="110.7" lengthAdjust="spacingAndGlyphs" stroke="#d1d4dc" stroke-width="0.3">StdDev Bars: 0.000</text>
</g>
<line x1="1327" x2="1516" y1="242.2" y2="242.2" stroke="rgba(160,160,160,0.7)" stroke-width="1" stroke-dasharray="1.1,1.55"/>
<line x1="1327" x2="1446" y1="255.4" y2="255.4" stroke="rgba(242,54,69,0.8)" stroke-width="1" stroke-dasharray="1.1,1.55"/>
<path d="M1448,246.2 H1516 V264.5 H1448 Q1445.7,264.5 1445.7,262.2 V248.5 Q1445.7,246.2 1448,246.2 Z" fill="#f23645"/>
<text x="1450.7" y="260" font-size="13" fill="#fff" textLength="60.6" lengthAdjust="spacingAndGlyphs" stroke="#fff" stroke-width="0.3">HYPEUSDT</text>
<text x="1526.6" y="86.5" font-size="13.3" fill="#131722" textLength="46" lengthAdjust="spacingAndGlyphs" stroke="#131722" stroke-width="0.12">130.000</text>
<text x="1526.6" y="130.95" font-size="13.3" fill="#131722" textLength="46" lengthAdjust="spacingAndGlyphs" stroke="#131722" stroke-width="0.12">100.000</text>
<text x="1526.6" y="167.45" font-size="13.3" fill="#131722" textLength="39.2" lengthAdjust="spacingAndGlyphs" stroke="#131722" stroke-width="0.12">80.000</text>
<text x="1526.6" y="201.65" font-size="13.3" fill="#131722" textLength="39.2" lengthAdjust="spacingAndGlyphs" stroke="#131722" stroke-width="0.12">65.000</text>
<text x="1526.6" y="236.6" font-size="13.3" fill="#131722" textLength="39.2" lengthAdjust="spacingAndGlyphs" stroke="#131722" stroke-width="0.12">53.000</text>
<text x="1526.6" y="391.95" font-size="13.3" fill="#131722" textLength="39.2" lengthAdjust="spacingAndGlyphs" stroke="#131722" stroke-width="0.12">21.000</text>
<text x="1526.6" y="426.95" font-size="13.3" fill="#131722" textLength="39.2" lengthAdjust="spacingAndGlyphs" stroke="#131722" stroke-width="0.12">17.000</text>
<text x="1526.6" y="471.95" font-size="13.3" fill="#131722" textLength="39.2" lengthAdjust="spacingAndGlyphs" stroke="#131722" stroke-width="0.12">13.000</text>
<text x="1526.6" y="508.06" font-size="13.3" fill="#131722" textLength="39.2" lengthAdjust="spacingAndGlyphs" stroke="#131722" stroke-width="0.12">10.500</text>
<text x="1526.6" y="543.47" font-size="13.3" fill="#131722" textLength="32.5" lengthAdjust="spacingAndGlyphs" stroke="#131722" stroke-width="0.12">8.500</text>
<text x="1526.6" y="588.44" font-size="13.3" fill="#131722" textLength="32.5" lengthAdjust="spacingAndGlyphs" stroke="#131722" stroke-width="0.12">6.500</text>
<text x="1526.6" y="621.75" font-size="13.3" fill="#131722" textLength="32.5" lengthAdjust="spacingAndGlyphs" stroke="#131722" stroke-width="0.12">5.300</text>
<rect x="1521" y="34.5" width="63" height="28" rx="4" fill="#fff"/>
<text x="1530.6" y="52.5" font-size="13" fill="#131722" textLength="30.4" lengthAdjust="spacingAndGlyphs" stroke="#131722" stroke-width="0.12">USDT</text>
<path d="M1517,246.2 H1581 Q1583,246.2 1583,248.2 V278.2 Q1583,280.2 1581,280.2 H1517 Z" fill="#f23645"/>
<text x="1526.6" y="259.8" font-size="13" fill="#fff" textLength="39.6" lengthAdjust="spacingAndGlyphs" stroke="#fff" stroke-width="0.3">46.189</text>
<text x="1527.6" y="275.9" font-size="13" fill="rgba(255,255,255,0.82)" textLength="50.6" lengthAdjust="spacingAndGlyphs" stroke="rgba(255,255,255,0.82)" stroke-width="0.12">11:29:07</text>
<path d="M1517,280.9 H1569.8 Q1571.8,280.9 1571.8,282.9 V295.6 Q1571.8,297.6 1569.8,297.6 H1517 Z" fill="#3a9e3e"/>
<text x="1526.6" y="293.95" font-size="13" fill="#fff" textLength="39.2" lengthAdjust="spacingAndGlyphs" stroke="#fff" stroke-width="0.3">42.528</text>
<path d="M1517,299 H1569.8 Q1571.8,299 1571.8,301 V315.3 Q1571.8,317.3 1569.8,317.3 H1517 Z" fill="#00e676"/>
<text x="1526.6" y="312.85" font-size="13" fill="#10201a" textLength="39.2" lengthAdjust="spacingAndGlyphs" stroke="#10201a" stroke-width="0.3">41.843</text>
<path d="M1517,318.2 H1569.8 Q1571.8,318.2 1571.8,320.2 V333.7 Q1571.8,335.7 1569.8,335.7 H1517 Z" fill="#d62828"/>
<text x="1526.6" y="331.65" font-size="13" fill="#fff" textLength="39.2" lengthAdjust="spacingAndGlyphs" stroke="#fff" stroke-width="0.3">40.237</text>
<path d="M1517,335.7 H1569.8 Q1571.8,335.7 1571.8,337.7 V352.5 Q1571.8,354.5 1569.8,354.5 H1517 Z" fill="#f23645"/>
<text x="1526.6" y="349.8" font-size="13" fill="#fff" textLength="39.2" lengthAdjust="spacingAndGlyphs" stroke="#fff" stroke-width="0.3">39.053</text>
<path d="M1517,354.5 H1569.8 Q1571.8,354.5 1571.8,356.5 V370.6 Q1571.8,372.6 1569.8,372.6 H1517 Z" fill="#2962ff"/>
<text x="1526.6" y="368.25" font-size="13" fill="#fff" textLength="39.2" lengthAdjust="spacingAndGlyphs" stroke="#fff" stroke-width="0.3">38.741</text>
<path d="M1517,627 H1579 Q1581,627 1581,629 V643.6 Q1581,645.6 1579,645.6 H1517 Z" fill="#ef5350"/>
<text x="1527" y="641" font-size="13" fill="#fff" textLength="38.6" lengthAdjust="spacingAndGlyphs" stroke="#fff" stroke-width="0.12">340.66</text>
<text x="1567.9" y="641" font-size="13" fill="#fff" textLength="8.1" lengthAdjust="spacingAndGlyphs" stroke="#fff" stroke-width="0.12">K</text>
<text x="20.6" y="52" font-size="13" fill="#131722" textLength="67.4" lengthAdjust="spacingAndGlyphs" stroke="#131722" stroke-width="0.12">Hyperliquid</text>
<text x="96.88" y="52" font-size="13" fill="#131722" text-anchor="middle" stroke="#131722" stroke-width="0.12">/</text>
<text x="103.75" y="52" font-size="13" fill="#131722" textLength="37.5" lengthAdjust="spacingAndGlyphs" stroke="#131722" stroke-width="0.12">Tether</text>
<text x="148" y="52" font-size="13" fill="#131722" text-anchor="middle" stroke="#131722" stroke-width="0.12">·</text>
<text x="155" y="52" font-size="13" fill="#131722" textLength="14.4" lengthAdjust="spacingAndGlyphs" stroke="#131722" stroke-width="0.12">1D</text>
<text x="176.1" y="52" font-size="13" fill="#131722" text-anchor="middle" stroke="#131722" stroke-width="0.12">·</text>
<text x="182.5" y="52" font-size="13" fill="#131722" textLength="44.4" lengthAdjust="spacingAndGlyphs" stroke="#131722" stroke-width="0.12">KUCOIN</text>
<text x="235.6" y="52" font-size="13" fill="#131722" textLength="8.4" lengthAdjust="spacingAndGlyphs" stroke="#131722" stroke-width="0.12">O</text>
<text x="244.5" y="52" font-size="13" fill="#f23645" textLength="38.5" lengthAdjust="spacingAndGlyphs" stroke="#f23645" stroke-width="0.12">46.956</text>
<text x="292.25" y="52" font-size="13" fill="#131722" textLength="7.75" lengthAdjust="spacingAndGlyphs" stroke="#131722" stroke-width="0.12">H</text>
<text x="300.5" y="52" font-size="13" fill="#f23645" textLength="38.9" lengthAdjust="spacingAndGlyphs" stroke="#f23645" stroke-width="0.12">47.349</text>
<text x="348.5" y="52" font-size="13" fill="#131722" textLength="5.9" lengthAdjust="spacingAndGlyphs" stroke="#131722" stroke-width="0.12">L</text>
<text x="354.9" y="52" font-size="13" fill="#f23645" textLength="38.85" lengthAdjust="spacingAndGlyphs" stroke="#f23645" stroke-width="0.12">45.519</text>
<text x="402.5" y="52" font-size="13" fill="#131722" textLength="6.9" lengthAdjust="spacingAndGlyphs" stroke="#131722" stroke-width="0.12">C</text>
<text x="409.9" y="52" font-size="13" fill="#f23645" textLength="38.85" lengthAdjust="spacingAndGlyphs" stroke="#f23645" stroke-width="0.12">46.189</text>
<text x="458" y="52" font-size="13" fill="#f23645" textLength="93.25" lengthAdjust="spacingAndGlyphs" stroke="#f23645" stroke-width="0.12">−0.762 (−1.62%)</text>
<text x="20.6" y="70.3" font-size="13" fill="#131722" textLength="16.3" lengthAdjust="spacingAndGlyphs" stroke="#131722" stroke-width="0.12">Vol</text>
<text x="44" y="70.3" font-size="13" fill="#131722" text-anchor="middle" stroke="#131722" stroke-width="0.12">·</text>
<text x="51.9" y="70.3" font-size="13" fill="#131722" textLength="28.7" lengthAdjust="spacingAndGlyphs" stroke="#131722" stroke-width="0.12">HYPE</text>
<text x="90" y="70.3" font-size="13" fill="#ef5350" textLength="38.4" lengthAdjust="spacingAndGlyphs" stroke="#ef5350" stroke-width="0.12">340.66</text>
<text x="130.6" y="70.3" font-size="13" fill="#ef5350" textLength="8.15" lengthAdjust="spacingAndGlyphs" stroke="#ef5350" stroke-width="0.12">K</text>
<text x="20.6" y="88.8" font-size="13" fill="#131722" textLength="23.8" lengthAdjust="spacingAndGlyphs" stroke="#131722" stroke-width="0.12">EMA</text>
<text x="49.4" y="88.8" font-size="13" fill="#131722" textLength="61.2" lengthAdjust="spacingAndGlyphs" stroke="#131722" stroke-width="0.12">(50, close)</text>
<text x="119.4" y="88.8" font-size="13" fill="#2962ff" textLength="38.1" lengthAdjust="spacingAndGlyphs" stroke="#2962ff" stroke-width="0.12">38.741</text>
<text x="20.6" y="107.4" font-size="13" fill="#131722" textLength="51.9" lengthAdjust="spacingAndGlyphs" stroke="#131722" stroke-width="0.12">Ichimoku</text>
<text x="78.1" y="107.4" font-size="13" fill="#131722" textLength="37.5" lengthAdjust="spacingAndGlyphs" stroke="#131722" stroke-width="0.12">Clouds</text>
<text x="121.25" y="107.4" font-size="13" fill="#131722" textLength="56.75" lengthAdjust="spacingAndGlyphs" stroke="#131722" stroke-width="0.12">[Skyrexio]</text>
<ellipse cx="191.9" cy="103.5" rx="2.85" ry="3.85" fill="none" stroke="#131722" stroke-width="1.1"/>
<line x1="189.20000000000002" y1="108.5" x2="194.4" y2="99" stroke="#131722" stroke-width="0.7"/>
<ellipse cx="208.5" cy="103.5" rx="2.85" ry="3.85" fill="none" stroke="#131722" stroke-width="1.1"/>
<line x1="205.8" y1="108.5" x2="211.0" y2="99" stroke="#131722" stroke-width="0.7"/>
<ellipse cx="225.65" cy="103.5" rx="2.85" ry="3.85" fill="none" stroke="#131722" stroke-width="1.1"/>
<line x1="222.95000000000002" y1="108.5" x2="228.15" y2="99" stroke="#131722" stroke-width="0.7"/>
<ellipse cx="581" cy="103.5" rx="2.85" ry="3.85" fill="none" stroke="#131722" stroke-width="1.1"/>
<line x1="578.3" y1="108.5" x2="583.5" y2="99" stroke="#131722" stroke-width="0.7"/>
<ellipse cx="597.5" cy="103.5" rx="2.85" ry="3.85" fill="none" stroke="#131722" stroke-width="1.1"/>
<line x1="594.8" y1="108.5" x2="600.0" y2="99" stroke="#131722" stroke-width="0.7"/>
<text x="238" y="107.4" font-size="13" fill="#43a047" textLength="39" lengthAdjust="spacingAndGlyphs" stroke="#43a047" stroke-width="0.12">42.528</text>
<text x="285.6" y="107.4" font-size="13" fill="#e53935" textLength="38.8" lengthAdjust="spacingAndGlyphs" stroke="#e53935" stroke-width="0.12">40.237</text>
<text x="333" y="107.4" font-size="13" fill="#4caf50" textLength="32" lengthAdjust="spacingAndGlyphs" stroke="#4caf50" stroke-width="0.12">0.000</text>
<text x="373.75" y="107.4" font-size="13" fill="#e05555" textLength="31.85" lengthAdjust="spacingAndGlyphs" stroke="#e05555" stroke-width="0.12">0.000</text>
<text x="414.4" y="107.4" font-size="13" fill="#1b7e20" textLength="31.85" lengthAdjust="spacingAndGlyphs" stroke="#1b7e20" stroke-width="0.12">0.000</text>
<text x="455" y="107.4" font-size="13" fill="#8b1a22" textLength="31.9" lengthAdjust="spacingAndGlyphs" stroke="#8b1a22" stroke-width="0.12">0.000</text>
<text x="495.5" y="107.4" font-size="13" fill="#1b7e20" textLength="32" lengthAdjust="spacingAndGlyphs" stroke="#1b7e20" stroke-width="0.12">0.000</text>
<text x="536" y="107.4" font-size="13" fill="#8b1a22" textLength="32" lengthAdjust="spacingAndGlyphs" stroke="#8b1a22" stroke-width="0.12">0.000</text>
<text x="135.3" y="669.4" font-size="13" fill="#131722" text-anchor="middle" font-weight="bold" textLength="29.4" lengthAdjust="spacingAndGlyphs" stroke="#131722" stroke-width="0.12">2025</text>
<text x="320.4" y="669.3" font-size="13" fill="#131722" text-anchor="middle" textLength="21.2" lengthAdjust="spacingAndGlyphs" stroke="#131722" stroke-width="0.12">Feb</text>
<text x="487.7" y="669.3" font-size="13" fill="#131722" text-anchor="middle" textLength="21.2" lengthAdjust="spacingAndGlyphs" stroke="#131722" stroke-width="0.12">Mar</text>
<text x="672.95" y="669.3" font-size="13" fill="#131722" text-anchor="middle" textLength="21.2" lengthAdjust="spacingAndGlyphs" stroke="#131722" stroke-width="0.12">Apr</text>
<text x="852.2" y="669.3" font-size="13" fill="#131722" text-anchor="middle" textLength="21.2" lengthAdjust="spacingAndGlyphs" stroke="#131722" stroke-width="0.12">May</text>
<text x="1037.4" y="669.3" font-size="13" fill="#131722" text-anchor="middle" textLength="21.2" lengthAdjust="spacingAndGlyphs" stroke="#131722" stroke-width="0.12">Jun</text>
<text x="1216.7" y="669.3" font-size="13" fill="#131722" text-anchor="middle" textLength="21.2" lengthAdjust="spacingAndGlyphs" stroke="#131722" stroke-width="0.12">Jul</text>
<text x="1401.9" y="669.3" font-size="13" fill="#131722" text-anchor="middle" textLength="21.2" lengthAdjust="spacingAndGlyphs" stroke="#131722" stroke-width="0.12">Aug</text>
<g fill="#161616">
<path d="M11.4,694 H20.1 V704.9 H15.7 V697.9 H11.4 Z"/>
<circle cx="23.5" cy="695.95" r="1.95"/>
<path d="M26.9,694 H32.9 L29.2,704.9 H24.1 Z"/>
</g>
<text x="37.5" y="704.4" font-size="13.4" fill="#1c1c1c" textLength="76.3" lengthAdjust="spacingAndGlyphs" stroke="#1c1c1c" stroke-width="0.15">TradingView</text>
</svg>
</body></html>
